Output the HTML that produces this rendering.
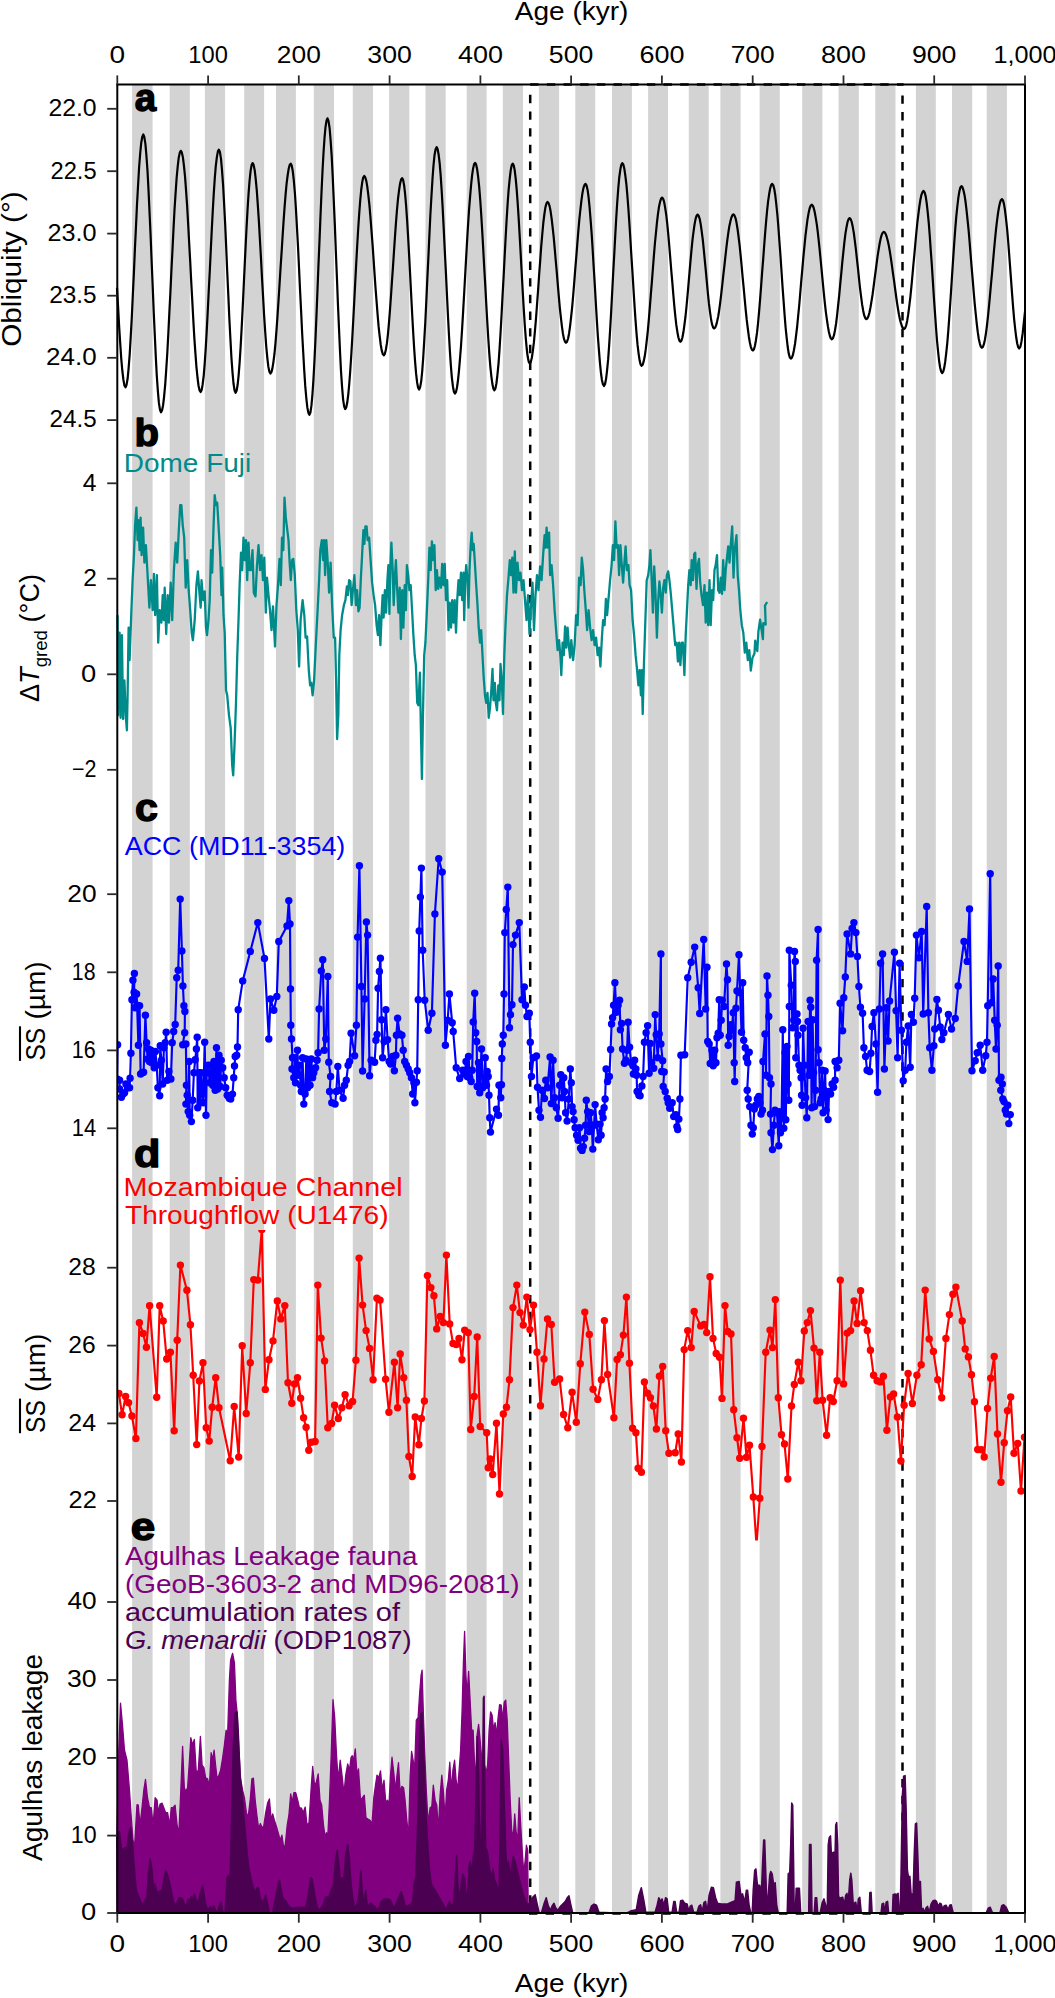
<!DOCTYPE html>
<html lang="en"><head><meta charset="utf-8"><title>Figure</title>
<style>html,body{margin:0;padding:0;background:#fff}svg{display:block}</style></head>
<body>
<svg width="1055" height="1998" viewBox="0 0 1055 1998" font-family="'Liberation Sans', sans-serif">
<rect width="1055" height="1998" fill="#fff"/>
<g fill="#d3d3d3"><rect x="132.1" y="84.4" width="20.5" height="1828.9"/><rect x="169.7" y="84.4" width="20.1" height="1828.9"/><rect x="204.9" y="84.4" width="20.2" height="1828.9"/><rect x="244.2" y="84.4" width="19.9" height="1828.9"/><rect x="276.0" y="84.4" width="19.9" height="1828.9"/><rect x="313.8" y="84.4" width="20.2" height="1828.9"/><rect x="352.8" y="84.4" width="20.2" height="1828.9"/><rect x="389.1" y="84.4" width="20.2" height="1828.9"/><rect x="425.5" y="84.4" width="20.2" height="1828.9"/><rect x="466.7" y="84.4" width="19.9" height="1828.9"/><rect x="502.8" y="84.4" width="20.2" height="1828.9"/><rect x="538.9" y="84.4" width="20.2" height="1828.9"/><rect x="575.3" y="84.4" width="19.9" height="1828.9"/><rect x="612.0" y="84.4" width="19.9" height="1828.9"/><rect x="648.1" y="84.4" width="19.9" height="1828.9"/><rect x="688.8" y="84.4" width="19.9" height="1828.9"/><rect x="720.4" y="84.4" width="20.2" height="1828.9"/><rect x="759.6" y="84.4" width="20.2" height="1828.9"/><rect x="802.2" y="84.4" width="20.2" height="1828.9"/><rect x="838.6" y="84.4" width="20.2" height="1828.9"/><rect x="875.3" y="84.4" width="20.2" height="1828.9"/><rect x="915.9" y="84.4" width="19.9" height="1828.9"/><rect x="952.0" y="84.4" width="20.2" height="1828.9"/><rect x="986.7" y="84.4" width="20.2" height="1828.9"/></g>
<g stroke="#000" stroke-width="2.5" fill="none" stroke-dasharray="8.4 8.27">
<path d="M530.2 84.6H903.7"/>
<path d="M529 1913.5H903.7"/>
<path d="M530.2 94.8V1913" />
<path d="M902.5 95.4V1913" />
</g>
<path d="M117.0 287.7 L118.1 307.1 L119.1 325.8 L120.2 343.0 L121.2 358.1 L122.3 370.5 L123.4 379.7 L124.4 385.4 L125.5 387.3 L126.5 385.1 L127.6 378.8 L128.6 368.4 L129.7 354.3 L130.7 337.1 L131.8 317.2 L132.8 295.5 L133.9 272.6 L134.9 249.2 L136.0 226.3 L137.0 204.6 L138.1 184.7 L139.1 167.5 L140.2 153.4 L141.2 143.0 L142.3 136.7 L143.3 134.5 L144.3 136.9 L145.4 143.9 L146.4 155.3 L147.5 170.8 L148.5 189.7 L149.5 211.5 L150.6 235.4 L151.6 260.6 L152.7 286.2 L153.7 311.4 L154.8 335.3 L155.8 357.1 L156.8 376.0 L157.9 391.5 L158.9 402.9 L160.0 409.9 L161.0 412.3 L162.0 410.5 L163.1 405.2 L164.1 396.5 L165.2 384.7 L166.2 370.1 L167.3 353.1 L168.3 334.1 L169.3 313.6 L170.4 292.3 L171.4 270.8 L172.5 249.5 L173.5 229.0 L174.5 210.0 L175.6 193.0 L176.6 178.4 L177.7 166.6 L178.7 157.9 L179.8 152.6 L180.8 150.8 L181.8 152.4 L182.9 157.3 L183.9 165.3 L185.0 176.2 L186.0 189.7 L187.1 205.4 L188.1 223.0 L189.1 241.8 L190.2 261.4 L191.2 281.4 L192.3 301.0 L193.3 319.8 L194.3 337.4 L195.4 353.1 L196.4 366.6 L197.5 377.5 L198.5 385.5 L199.6 390.4 L200.6 392.0 L201.6 390.2 L202.6 384.7 L203.7 375.8 L204.7 363.6 L205.7 348.7 L206.7 331.4 L207.7 312.3 L208.7 291.8 L209.8 270.8 L210.8 249.8 L211.8 229.3 L212.8 210.2 L213.8 192.9 L214.8 178.0 L215.8 165.8 L216.9 156.9 L217.9 151.4 L218.9 149.6 L219.9 151.9 L221.0 158.9 L222.0 170.1 L223.1 185.2 L224.1 203.6 L225.2 224.7 L226.2 247.5 L227.2 271.2 L228.3 294.9 L229.3 317.7 L230.4 338.8 L231.4 357.2 L232.5 372.3 L233.5 383.5 L234.6 390.5 L235.6 392.8 L236.6 390.8 L237.6 385.0 L238.6 375.6 L239.6 362.8 L240.6 347.2 L241.6 329.1 L242.6 309.4 L243.6 288.5 L244.6 267.4 L245.6 246.5 L246.6 226.8 L247.6 208.7 L248.6 193.1 L249.6 180.3 L250.6 170.9 L251.6 165.1 L252.6 163.1 L253.6 164.9 L254.7 170.2 L255.7 178.9 L256.8 190.6 L257.8 204.9 L258.9 221.4 L259.9 239.5 L261.0 258.6 L262.0 278.0 L263.1 297.1 L264.1 315.2 L265.2 331.7 L266.2 346.0 L267.3 357.7 L268.3 366.4 L269.4 371.7 L270.4 373.5 L271.4 372.2 L272.4 368.4 L273.4 362.1 L274.5 353.5 L275.5 342.8 L276.5 330.2 L277.5 316.2 L278.5 301.0 L279.5 285.0 L280.5 268.6 L281.6 252.1 L282.6 236.1 L283.6 220.9 L284.6 206.9 L285.6 194.3 L286.6 183.6 L287.7 175.0 L288.7 168.7 L289.7 164.9 L290.7 163.6 L291.7 165.5 L292.8 171.2 L293.8 180.4 L294.9 193.0 L295.9 208.5 L296.9 226.4 L298.0 246.2 L299.0 267.4 L300.0 289.2 L301.1 311.0 L302.1 332.2 L303.2 352.0 L304.2 369.9 L305.2 385.4 L306.3 398.0 L307.3 407.2 L308.4 412.9 L309.4 414.8 L310.4 412.5 L311.4 405.9 L312.4 394.9 L313.4 380.1 L314.4 361.8 L315.4 340.7 L316.4 317.3 L317.4 292.3 L318.4 266.6 L319.5 240.8 L320.5 215.8 L321.5 192.4 L322.5 171.3 L323.5 153.0 L324.5 138.2 L325.5 127.2 L326.5 120.6 L327.5 118.3 L328.5 120.8 L329.6 128.1 L330.6 140.1 L331.7 156.2 L332.7 176.1 L333.7 198.9 L334.8 223.9 L335.8 250.3 L336.9 277.1 L337.9 303.5 L339.0 328.5 L340.0 351.3 L341.0 371.2 L342.1 387.3 L343.1 399.3 L344.2 406.6 L345.2 409.1 L346.2 407.5 L347.2 402.8 L348.2 395.1 L349.2 384.5 L350.2 371.5 L351.2 356.3 L352.2 339.4 L353.2 321.2 L354.2 302.2 L355.2 282.9 L356.2 263.9 L357.2 245.7 L358.2 228.8 L359.2 213.6 L360.2 200.6 L361.2 190.0 L362.2 182.3 L363.2 177.6 L364.2 176.0 L365.2 177.2 L366.3 180.9 L367.3 186.8 L368.3 194.9 L369.4 204.9 L370.4 216.6 L371.4 229.6 L372.5 243.6 L373.5 258.2 L374.5 273.1 L375.5 287.7 L376.6 301.7 L377.6 314.7 L378.6 326.4 L379.7 336.4 L380.7 344.5 L381.7 350.4 L382.8 354.1 L383.8 355.3 L384.8 354.0 L385.8 350.0 L386.9 343.4 L387.9 334.6 L388.9 323.7 L389.9 311.0 L390.9 297.0 L391.9 282.1 L393.0 266.7 L394.0 251.3 L395.0 236.4 L396.0 222.4 L397.0 209.7 L398.0 198.8 L399.1 190.0 L400.1 183.4 L401.1 179.4 L402.1 178.1 L403.1 179.9 L404.1 185.2 L405.1 193.9 L406.1 205.7 L407.1 220.1 L408.1 236.7 L409.1 254.9 L410.1 274.0 L411.1 293.6 L412.1 312.7 L413.1 330.9 L414.1 347.5 L415.1 361.9 L416.1 373.7 L417.1 382.4 L418.1 387.7 L419.1 389.5 L420.1 387.4 L421.2 381.3 L422.2 371.3 L423.2 357.9 L424.2 341.3 L425.3 322.3 L426.3 301.5 L427.3 279.5 L428.4 257.1 L429.4 235.1 L430.4 214.3 L431.5 195.3 L432.5 178.7 L433.5 165.3 L434.5 155.3 L435.6 149.2 L436.6 147.1 L437.6 149.0 L438.6 154.5 L439.7 163.6 L440.7 175.9 L441.7 191.1 L442.7 208.7 L443.7 228.2 L444.7 248.9 L445.8 270.4 L446.8 291.8 L447.8 312.5 L448.8 332.0 L449.8 349.6 L450.8 364.8 L451.8 377.1 L452.9 386.2 L453.9 391.7 L454.9 393.6 L455.9 392.2 L456.9 388.0 L457.9 381.0 L458.9 371.6 L459.9 359.8 L461.0 346.0 L462.0 330.6 L463.0 313.9 L464.0 296.3 L465.0 278.2 L466.0 260.1 L467.0 242.5 L468.0 225.8 L469.0 210.4 L470.1 196.6 L471.1 184.8 L472.1 175.4 L473.1 168.4 L474.1 164.2 L475.1 162.8 L476.1 164.4 L477.1 169.0 L478.1 176.5 L479.2 186.8 L480.2 199.5 L481.2 214.3 L482.2 230.9 L483.2 248.6 L484.2 267.2 L485.3 285.9 L486.3 304.5 L487.3 322.2 L488.3 338.8 L489.3 353.6 L490.3 366.3 L491.4 376.6 L492.4 384.1 L493.4 388.7 L494.4 390.3 L495.4 388.6 L496.4 383.5 L497.4 375.1 L498.5 363.8 L499.5 349.8 L500.5 333.6 L501.5 315.7 L502.5 296.6 L503.6 277.0 L504.6 257.3 L505.6 238.2 L506.6 220.3 L507.6 204.1 L508.6 190.1 L509.7 178.8 L510.7 170.4 L511.7 165.3 L512.7 163.6 L513.7 165.3 L514.7 170.3 L515.7 178.6 L516.7 189.7 L517.7 203.3 L518.7 219.0 L519.7 236.2 L520.7 254.3 L521.7 272.8 L522.7 290.9 L523.7 308.1 L524.7 323.8 L525.7 337.4 L526.7 348.5 L527.7 356.8 L528.7 361.8 L529.7 363.5 L530.7 362.1 L531.8 358.0 L532.8 351.4 L533.9 342.4 L534.9 331.4 L536.0 318.7 L537.0 304.8 L538.1 290.2 L539.1 275.2 L540.2 260.6 L541.2 246.7 L542.3 234.0 L543.3 223.0 L544.4 214.0 L545.4 207.4 L546.5 203.3 L547.5 201.9 L548.5 203.0 L549.6 206.1 L550.6 211.3 L551.6 218.4 L552.6 227.1 L553.7 237.1 L554.7 248.3 L555.7 260.1 L556.8 272.4 L557.8 284.6 L558.8 296.4 L559.8 307.6 L560.9 317.6 L561.9 326.3 L562.9 333.4 L563.9 338.6 L565.0 341.7 L566.0 342.8 L567.0 341.7 L568.1 338.5 L569.1 333.2 L570.1 326.0 L571.1 317.1 L572.2 306.8 L573.2 295.2 L574.2 282.8 L575.2 269.9 L576.3 256.7 L577.3 243.8 L578.3 231.4 L579.3 219.8 L580.4 209.5 L581.4 200.6 L582.4 193.4 L583.4 188.1 L584.5 184.9 L585.5 183.8 L586.5 185.3 L587.6 189.9 L588.6 197.3 L589.6 207.5 L590.6 219.9 L591.7 234.3 L592.7 250.3 L593.7 267.3 L594.8 284.9 L595.8 302.5 L596.8 319.5 L597.8 335.4 L598.9 349.9 L599.9 362.3 L600.9 372.5 L601.9 379.9 L603.0 384.5 L604.0 386.0 L605.0 384.3 L606.0 379.3 L607.0 371.1 L608.1 359.9 L609.1 346.2 L610.1 330.3 L611.1 312.7 L612.1 293.9 L613.1 274.6 L614.2 255.2 L615.2 236.4 L616.2 218.8 L617.2 202.9 L618.2 189.2 L619.2 178.0 L620.3 169.8 L621.3 164.8 L622.3 163.1 L623.3 164.5 L624.3 168.6 L625.3 175.3 L626.4 184.5 L627.4 195.8 L628.4 209.0 L629.4 223.7 L630.4 239.6 L631.4 256.1 L632.5 272.8 L633.5 289.3 L634.5 305.2 L635.5 319.9 L636.5 333.1 L637.5 344.4 L638.6 353.6 L639.6 360.3 L640.6 364.4 L641.6 365.8 L642.6 364.8 L643.6 361.7 L644.7 356.6 L645.7 349.7 L646.7 341.2 L647.8 331.1 L648.8 319.9 L649.8 307.7 L650.8 294.9 L651.9 281.7 L652.9 268.5 L653.9 255.7 L654.9 243.5 L656.0 232.3 L657.0 222.2 L658.0 213.7 L659.0 206.8 L660.1 201.7 L661.1 198.6 L662.1 197.6 L663.1 198.7 L664.1 201.9 L665.1 207.3 L666.2 214.5 L667.2 223.4 L668.2 233.6 L669.2 245.0 L670.2 257.2 L671.2 269.7 L672.3 282.2 L673.3 294.4 L674.3 305.8 L675.3 316.0 L676.3 324.9 L677.4 332.1 L678.4 337.5 L679.4 340.7 L680.4 341.8 L681.4 340.7 L682.4 337.5 L683.4 332.3 L684.4 325.2 L685.5 316.5 L686.5 306.5 L687.5 295.6 L688.5 284.1 L689.5 272.3 L690.5 260.8 L691.5 249.9 L692.5 239.9 L693.6 231.2 L694.6 224.1 L695.6 218.9 L696.6 215.7 L697.6 214.6 L698.6 215.7 L699.7 218.9 L700.7 224.2 L701.7 231.3 L702.8 239.9 L703.8 249.8 L704.8 260.4 L705.9 271.6 L706.9 282.7 L707.9 293.3 L708.9 303.2 L710.0 311.8 L711.0 318.9 L712.0 324.2 L713.1 327.4 L714.1 328.5 L715.1 327.7 L716.1 325.4 L717.1 321.6 L718.2 316.5 L719.2 310.1 L720.2 302.7 L721.2 294.4 L722.2 285.5 L723.2 276.2 L724.3 266.7 L725.3 257.4 L726.3 248.5 L727.3 240.2 L728.3 232.8 L729.3 226.4 L730.4 221.3 L731.4 217.5 L732.4 215.2 L733.4 214.4 L734.4 215.3 L735.5 218.1 L736.5 222.6 L737.5 228.7 L738.5 236.4 L739.6 245.2 L740.6 255.1 L741.6 265.7 L742.6 276.8 L743.7 288.1 L744.7 299.2 L745.7 309.8 L746.7 319.7 L747.8 328.5 L748.8 336.2 L749.8 342.3 L750.8 346.8 L751.9 349.6 L752.9 350.5 L753.9 349.4 L754.9 346.0 L755.9 340.5 L757.0 332.9 L758.0 323.6 L759.0 312.7 L760.0 300.6 L761.0 287.6 L762.0 274.0 L763.1 260.3 L764.1 246.7 L765.1 233.7 L766.1 221.6 L767.1 210.7 L768.1 201.4 L769.2 193.8 L770.2 188.3 L771.2 184.9 L772.2 183.8 L773.2 185.1 L774.3 189.1 L775.3 195.5 L776.3 204.3 L777.4 215.0 L778.4 227.5 L779.4 241.3 L780.5 256.1 L781.5 271.2 L782.5 286.4 L783.6 301.2 L784.6 315.0 L785.6 327.5 L786.7 338.2 L787.7 347.0 L788.7 353.4 L789.8 357.4 L790.8 358.7 L791.8 357.8 L792.9 354.9 L793.9 350.3 L795.0 344.0 L796.0 336.1 L797.1 327.0 L798.1 316.7 L799.2 305.5 L800.2 293.7 L801.2 281.7 L802.3 269.7 L803.3 257.9 L804.4 246.7 L805.4 236.4 L806.5 227.3 L807.5 219.4 L808.6 213.1 L809.6 208.5 L810.7 205.6 L811.7 204.7 L812.7 205.5 L813.7 208.0 L814.7 212.0 L815.7 217.6 L816.8 224.4 L817.8 232.4 L818.8 241.4 L819.8 251.2 L820.8 261.5 L821.8 272.0 L822.8 282.5 L823.8 292.8 L824.8 302.6 L825.8 311.6 L826.9 319.6 L827.9 326.4 L828.9 332.0 L829.9 336.0 L830.9 338.5 L831.9 339.3 L832.9 338.3 L834.0 335.2 L835.0 330.2 L836.1 323.5 L837.1 315.2 L838.1 305.7 L839.2 295.3 L840.2 284.3 L841.3 273.1 L842.3 262.1 L843.4 251.7 L844.4 242.2 L845.4 233.9 L846.5 227.2 L847.5 222.2 L848.6 219.1 L849.6 218.1 L850.6 219.1 L851.7 221.9 L852.7 226.6 L853.8 232.9 L854.8 240.6 L855.9 249.3 L856.9 258.8 L858.0 268.6 L859.0 278.5 L860.0 288.0 L861.1 296.7 L862.1 304.4 L863.2 310.7 L864.2 315.4 L865.3 318.2 L866.3 319.2 L867.3 318.5 L868.4 316.3 L869.4 312.7 L870.4 307.8 L871.4 301.9 L872.5 295.0 L873.5 287.5 L874.5 279.6 L875.6 271.5 L876.6 263.6 L877.6 256.1 L878.7 249.2 L879.7 243.3 L880.7 238.4 L881.7 234.8 L882.8 232.6 L883.8 231.9 L884.8 232.5 L885.8 234.3 L886.8 237.2 L887.9 241.2 L888.9 246.1 L889.9 251.9 L890.9 258.4 L891.9 265.4 L892.9 272.9 L894.0 280.4 L895.0 288.0 L896.0 295.5 L897.0 302.5 L898.0 309.0 L899.0 314.8 L900.0 319.7 L901.1 323.7 L902.1 326.6 L903.1 328.4 L904.1 329.0 L905.1 328.1 L906.2 325.3 L907.2 320.7 L908.2 314.4 L909.2 306.7 L910.3 297.7 L911.3 287.7 L912.3 276.9 L913.3 265.7 L914.4 254.2 L915.4 243.0 L916.4 232.2 L917.4 222.2 L918.5 213.2 L919.5 205.5 L920.5 199.2 L921.5 194.6 L922.6 191.8 L923.6 190.9 L924.6 192.3 L925.7 196.4 L926.7 203.1 L927.7 212.2 L928.8 223.4 L929.8 236.4 L930.8 250.8 L931.9 266.1 L932.9 281.9 L933.9 297.8 L935.0 313.1 L936.0 327.5 L937.0 340.5 L938.1 351.7 L939.1 360.8 L940.1 367.5 L941.2 371.6 L942.2 373.0 L943.2 371.7 L944.2 367.9 L945.2 361.7 L946.2 353.3 L947.3 342.8 L948.3 330.7 L949.3 317.1 L950.3 302.5 L951.3 287.3 L952.3 271.8 L953.3 256.6 L954.3 242.0 L955.3 228.4 L956.3 216.3 L957.4 205.8 L958.4 197.4 L959.4 191.2 L960.4 187.4 L961.4 186.1 L962.4 187.1 L963.4 190.1 L964.5 194.9 L965.5 201.5 L966.5 209.8 L967.5 219.4 L968.6 230.2 L969.6 242.0 L970.6 254.3 L971.6 266.9 L972.7 279.6 L973.7 291.9 L974.7 303.7 L975.8 314.5 L976.8 324.1 L977.8 332.4 L978.8 339.0 L979.9 343.8 L980.9 346.8 L981.9 347.8 L982.9 346.9 L983.9 344.2 L984.9 339.7 L985.9 333.6 L986.9 326.0 L987.9 317.2 L988.9 307.2 L989.9 296.4 L990.9 285.1 L992.0 273.5 L993.0 261.8 L994.0 250.5 L995.0 239.7 L996.0 229.7 L997.0 220.9 L998.0 213.3 L999.0 207.2 L1000.0 202.7 L1001.0 200.0 L1002.0 199.1 L1003.0 200.4 L1004.0 204.1 L1005.0 210.3 L1006.0 218.6 L1007.1 228.8 L1008.1 240.5 L1009.1 253.4 L1010.1 266.9 L1011.1 280.7 L1012.1 294.2 L1013.1 307.1 L1014.1 318.8 L1015.2 329.0 L1016.2 337.3 L1017.2 343.5 L1018.2 347.2 L1019.2 348.5 L1020.4 346.7 L1021.5 341.4 L1022.7 333.2 L1023.8 322.9 L1025.0 311.5" fill="none" stroke="#000" stroke-width="2.2" stroke-linejoin="round"/>
<path d="M117.6 615.2 L118.1 715.3 L119.6 632.7 L120.6 717.8 L121.9 635.2 L123.1 719.0 L124.4 680.3 L125.9 717.8 L126.9 730.3 L127.6 695.3 L128.6 627.7 L129.6 660.2 L131.4 610.2 L132.6 580.2 L133.9 556.4 L135.1 525.1 L136.4 507.6 L137.6 540.1 L138.4 520.1 L139.6 550.1 L140.6 517.6 L141.6 555.1 L143.1 527.6 L144.4 562.6 L145.9 545.1 L147.6 575.2 L149.4 607.7 L150.9 580.2 L152.7 610.2 L153.9 573.9 L155.2 615.2 L156.9 575.2 L158.2 642.7 L159.7 610.2 L161.4 622.7 L162.7 595.2 L163.9 620.2 L164.7 587.7 L166.2 634.0 L167.7 595.2 L168.9 622.7 L170.7 582.7 L172.2 620.2 L173.9 570.2 L175.7 542.6 L177.2 562.6 L178.7 532.6 L180.2 505.1 L181.4 505.1 L182.7 525.1 L184.2 537.6 L185.7 587.7 L187.2 560.1 L188.7 590.2 L190.2 610.2 L191.7 632.7 L192.9 640.2 L194.7 620.2 L196.4 585.2 L197.9 571.4 L199.4 592.7 L200.7 607.7 L201.5 580.2 L203.2 600.2 L204.7 591.4 L206.0 627.7 L207.0 635.2 L208.5 620.2 L209.7 600.2 L211.0 550.1 L212.2 572.7 L213.5 527.6 L214.7 495.1 L216.0 505.1 L217.2 502.6 L218.5 525.1 L220.2 555.1 L221.5 595.2 L222.2 567.6 L223.5 615.2 L224.7 632.7 L226.0 690.3 L227.2 695.3 L229.0 715.3 L230.7 727.8 L232.2 765.3 L233.2 775.4 L234.5 745.3 L236.0 702.8 L237.2 657.7 L238.5 620.2 L239.7 582.7 L241.0 552.6 L242.2 570.2 L243.5 537.6 L244.7 560.1 L246.0 540.1 L247.2 580.2 L248.5 542.6 L249.7 570.2 L251.0 570.1 L252.5 550.1 L253.8 592.7 L255.5 596.4 L257.0 565.1 L258.5 545.1 L260.0 570.1 L261.5 555.1 L263.0 580.2 L264.3 557.6 L265.8 612.7 L267.0 577.6 L268.5 595.2 L270.0 610.2 L271.5 630.2 L273.0 606.4 L275.0 646.5 L276.5 605.2 L278.0 585.2 L279.5 558.9 L280.8 585.2 L282.0 537.6 L283.3 550.1 L284.5 497.6 L285.8 517.6 L287.0 527.6 L288.5 540.1 L289.5 560.1 L290.8 580.2 L292.1 560.1 L293.3 558.9 L294.8 575.1 L296.3 610.2 L297.8 630.2 L299.1 666.5 L300.6 620.2 L302.6 600.2 L304.3 615.2 L305.6 637.7 L307.1 636.5 L308.8 670.2 L310.1 685.3 L311.3 682.8 L312.6 695.3 L314.1 680.3 L315.8 645.2 L317.6 610.2 L319.1 580.2 L320.3 550.1 L321.8 540.1 L323.1 560.1 L324.1 540.1 L325.1 575.1 L326.3 540.1 L327.6 560.1 L329.1 592.7 L330.6 562.6 L332.1 605.2 L333.8 637.7 L335.1 637.7 L336.1 680.3 L337.1 739.1 L338.3 715.3 L339.3 655.2 L340.6 630.2 L342.1 615.2 L343.9 605.2 L345.4 600.2 L346.9 586.4 L347.9 595.2 L349.1 580.2 L350.4 581.4 L351.6 605.2 L352.9 590.2 L354.4 575.1 L355.9 605.2 L357.1 590.2 L358.4 611.4 L359.6 607.7 L360.9 577.6 L362.1 555.1 L363.4 530.1 L364.4 543.9 L365.4 526.3 L366.6 526.3 L367.6 540.1 L369.1 537.6 L370.6 560.1 L372.1 582.7 L373.6 595.2 L375.1 605.2 L376.6 625.2 L377.9 635.2 L379.1 615.2 L380.4 645.2 L381.6 615.2 L382.6 595.2 L383.6 617.7 L384.9 590.2 L386.1 612.7 L387.4 580.2 L388.4 565.1 L389.4 613.9 L390.4 565.1 L391.4 542.6 L392.7 570.1 L393.7 605.2 L394.7 580.2 L395.9 560.1 L397.2 590.2 L398.4 612.7 L399.7 587.7 L400.9 639.0 L402.2 590.2 L403.4 627.7 L404.7 585.2 L405.9 610.2 L406.9 565.1 L408.2 575.1 L409.4 590.2 L410.7 585.2 L412.2 612.7 L413.4 635.2 L414.7 655.2 L415.9 665.2 L417.2 702.8 L418.4 705.3 L419.9 672.7 L420.9 730.3 L421.9 779.1 L422.9 717.8 L424.2 655.2 L425.4 642.7 L426.9 610.2 L428.2 580.2 L429.4 547.6 L430.7 570.1 L431.9 541.4 L433.2 560.1 L434.4 545.1 L435.7 590.2 L436.9 570.1 L438.2 588.9 L439.4 577.6 L441.0 587.7 L442.2 563.9 L443.5 585.2 L444.7 563.9 L446.0 600.2 L447.2 580.2 L448.5 630.2 L449.7 602.7 L451.0 627.7 L452.2 600.2 L453.5 622.7 L454.7 600.2 L456.0 632.7 L457.2 600.2 L458.5 580.2 L459.7 595.2 L461.0 572.6 L462.2 600.2 L463.5 572.6 L464.2 620.2 L465.2 580.2 L466.2 565.1 L467.5 580.2 L468.5 607.7 L469.5 570.1 L470.7 545.1 L471.7 532.6 L472.7 550.1 L473.7 543.9 L475.0 565.1 L476.2 585.2 L477.5 605.2 L478.7 627.7 L480.0 642.7 L481.2 630.2 L482.5 655.2 L483.7 677.7 L485.0 695.3 L486.2 702.8 L487.5 692.8 L488.7 717.8 L490.0 707.8 L491.3 690.3 L492.5 669.0 L493.5 700.3 L494.8 682.8 L495.8 702.8 L497.0 710.3 L498.3 685.3 L499.5 700.3 L500.5 664.0 L501.8 680.3 L503.0 714.0 L504.3 655.2 L505.5 625.2 L507.0 595.2 L508.5 577.6 L509.8 560.1 L511.0 575.1 L512.3 557.6 L513.5 592.7 L514.8 551.4 L516.0 592.7 L517.5 562.6 L519.0 580.2 L520.5 572.6 L522.0 590.2 L523.5 580.2 L525.0 600.2 L526.5 620.2 L528.0 595.2 L529.5 634.0 L531.0 605.2 L532.5 582.7 L534.0 630.2 L535.5 595.2 L537.0 575.1 L538.5 590.2 L540.1 566.4 L541.6 580.2 L543.1 555.1 L544.6 535.1 L545.6 547.6 L546.6 527.6 L547.8 547.6 L549.1 532.6 L550.1 575.1 L551.6 565.1 L553.1 585.2 L554.6 610.2 L556.1 630.2 L557.6 650.2 L559.1 640.2 L560.3 655.2 L561.3 675.2 L562.6 642.7 L563.8 655.2 L565.1 626.4 L566.3 647.7 L567.6 627.7 L568.8 645.2 L570.1 657.7 L571.3 640.2 L573.1 660.2 L574.6 645.2 L576.1 615.2 L577.6 625.2 L579.1 577.6 L580.6 585.2 L581.8 557.6 L583.1 570.1 L584.3 590.2 L585.8 610.2 L587.1 630.2 L588.6 610.2 L590.1 627.7 L591.6 640.2 L593.1 630.2 L594.6 645.2 L596.1 637.7 L597.6 655.2 L599.1 647.7 L600.4 666.5 L601.9 637.7 L603.1 620.2 L604.6 625.2 L605.9 598.9 L607.1 615.2 L608.6 597.7 L610.1 580.2 L611.6 565.1 L612.9 545.1 L614.1 560.1 L615.4 521.3 L616.6 547.6 L617.9 545.1 L619.1 575.1 L620.4 545.1 L621.6 562.6 L623.1 582.7 L624.4 562.6 L625.6 546.4 L626.9 570.1 L628.4 565.1 L629.6 585.2 L631.1 590.2 L632.6 620.2 L634.1 635.2 L635.6 655.2 L637.1 670.2 L638.4 685.3 L639.6 670.2 L640.9 695.3 L641.7 670.2 L642.7 714.0 L643.9 665.2 L645.2 625.2 L646.7 580.2 L648.2 575.1 L649.4 565.1 L650.4 550.1 L651.7 580.2 L652.9 612.7 L654.2 566.4 L655.4 590.2 L656.9 637.7 L658.2 600.2 L659.4 581.4 L660.7 595.2 L661.9 612.7 L663.2 587.7 L664.4 580.2 L665.7 592.7 L666.9 575.1 L668.2 571.4 L669.4 580.2 L670.7 592.7 L672.2 610.2 L673.7 627.7 L675.2 645.2 L676.7 642.7 L677.9 661.5 L679.2 642.7 L680.4 665.2 L681.7 642.7 L682.9 642.7 L684.4 675.2 L685.7 635.2 L687.2 605.2 L688.2 585.2 L689.4 570.1 L690.7 585.2 L691.7 560.1 L693.0 580.2 L694.2 553.9 L695.2 552.6 L696.5 588.9 L697.7 565.1 L699.0 558.9 L700.2 582.7 L701.5 595.2 L703.0 605.2 L704.5 585.2 L705.7 622.7 L707.0 592.7 L708.2 625.2 L709.5 580.2 L710.7 625.2 L712.0 590.2 L713.2 600.2 L714.5 570.1 L715.7 565.1 L717.0 555.1 L718.2 590.2 L719.5 592.7 L720.7 577.6 L722.0 593.9 L723.2 560.1 L724.5 590.2 L725.7 570.1 L727.0 557.6 L728.2 546.4 L729.5 562.6 L730.7 545.1 L732.2 526.3 L733.5 577.6 L734.7 550.1 L736.5 535.1 L737.7 575.1 L739.0 590.2 L740.3 610.2 L741.8 625.2 L743.3 632.7 L744.8 652.7 L746.3 642.7 L747.8 660.2 L749.3 650.2 L750.8 670.7 L752.4 658.1 L754.5 653.2 L755.2 640.6 L757.3 651.1 L758.4 631.5 L760.1 619.6 L762.9 639.2 L763.3 623.1 L765.7 624.5 L765.0 605.6 L767.1 602.0" fill="none" stroke="#008b8b" stroke-width="2.3" stroke-linejoin="round"/>
<clipPath id="cc"><rect x="117.3" y="84.4" width="907.7" height="1829"/></clipPath>
<g clip-path="url(#cc)"><path d="M117.6 1044.8 L117.1 1079.0 L119.6 1080.3 L119.6 1089.0 L121.4 1097.3 L123.1 1094.1 L124.6 1092.8 L125.9 1084.0 L127.6 1087.8 L129.6 1087.8 L130.1 1078.3 L130.9 1053.3 L131.9 999.7 L132.9 980.2 L134.4 973.4 L134.1 992.2 L135.1 1007.7 L136.6 994.0 L137.1 1005.2 L138.4 1045.3 L139.6 1005.7 L140.6 1074.0 L142.1 1072.8 L143.6 1072.3 L145.4 1015.2 L146.6 1042.8 L147.6 1059.0 L148.4 1049.0 L149.4 1061.5 L150.7 1050.3 L151.7 1062.8 L152.7 1051.5 L154.2 1067.8 L155.4 1051.5 L156.7 1065.3 L157.9 1087.8 L159.7 1095.8 L160.2 1045.8 L161.4 1060.3 L162.7 1084.0 L163.9 1047.8 L165.2 1042.8 L166.2 1032.2 L167.2 1080.3 L168.9 1071.5 L170.9 1079.0 L172.2 1042.8 L173.7 1031.5 L175.2 1024.5 L176.7 977.7 L178.2 970.2 L180.2 899.1 L181.9 950.9 L182.9 985.9 L183.9 1005.7 L184.9 1011.5 L184.7 1032.7 L182.7 1044.8 L185.9 1044.0 L186.4 1085.3 L185.9 1104.1 L187.2 1095.3 L188.2 1111.6 L189.2 1061.5 L189.7 1115.3 L191.4 1121.6 L192.7 1100.3 L193.9 1072.8 L195.2 1059.8 L196.4 1049.0 L197.2 1037.2 L197.7 1107.8 L199.4 1072.8 L200.2 1102.8 L201.2 1072.8 L202.2 1094.1 L203.2 1102.8 L204.7 1042.3 L206.0 1115.3 L206.7 1072.8 L208.2 1065.3 L209.7 1082.8 L211.2 1065.3 L212.7 1085.3 L214.0 1061.5 L215.2 1090.3 L216.5 1047.8 L217.7 1089.0 L219.0 1055.3 L220.2 1086.5 L221.2 1060.3 L222.7 1067.8 L224.2 1077.8 L225.7 1087.8 L227.2 1095.3 L229.2 1098.3 L230.7 1099.1 L232.5 1094.1 L233.7 1077.8 L234.5 1066.0 L235.2 1056.5 L236.7 1055.3 L237.5 1047.0 L238.2 1009.7 L242.7 980.9 L250.3 951.4 L257.8 922.6 L264.5 958.4 L268.8 1039.0 L270.5 998.9 L273.8 1010.2 L276.8 996.4 L278.8 941.4 L287.0 925.9 L288.8 900.6 L290.0 923.9 L290.5 988.9 L290.8 1025.2 L291.5 1039.0 L292.5 1057.8 L292.0 1069.0 L293.8 1077.8 L295.0 1057.8 L295.5 1082.8 L297.5 1050.3 L298.0 1075.3 L299.5 1065.3 L300.6 1085.3 L301.3 1091.5 L302.6 1057.8 L303.8 1104.1 L305.1 1094.0 L306.3 1059.0 L307.6 1087.8 L308.8 1060.3 L310.1 1085.3 L311.3 1059.0 L312.6 1077.8 L313.8 1072.8 L315.6 1067.8 L317.1 1060.3 L318.1 1052.8 L319.1 1009.0 L321.3 970.9 L322.8 959.7 L324.3 1050.3 L325.8 1039.0 L327.8 976.4 L328.8 1062.3 L330.6 1076.5 L329.6 1091.5 L331.8 1102.8 L335.1 1104.1 L336.3 1091.5 L337.8 1066.5 L339.6 1090.3 L343.1 1098.3 L344.6 1085.3 L346.3 1080.3 L348.1 1065.3 L349.6 1061.5 L351.1 1033.2 L354.6 1055.8 L356.4 1025.2 L357.6 937.1 L359.4 865.8 L361.4 986.4 L362.6 1071.0 L364.6 998.9 L366.4 921.9 L367.6 935.1 L369.6 1075.8 L371.1 1060.3 L374.6 1062.3 L375.9 1040.2 L377.1 1034.5 L378.1 988.2 L379.4 971.4 L380.4 958.2 L381.6 1019.7 L382.6 1057.8 L384.1 1041.5 L385.9 1009.7 L387.6 1039.7 L389.1 1061.5 L390.6 1064.0 L392.6 1056.5 L394.4 1070.8 L395.9 1055.3 L396.4 1035.2 L397.6 1018.2 L399.6 1034.0 L401.9 1035.2 L403.2 1050.3 L404.7 1061.5 L406.4 1065.3 L408.2 1069.0 L409.7 1072.8 L411.4 1077.8 L412.7 1094.0 L413.9 1082.8 L414.9 1102.8 L416.4 1082.3 L417.2 1070.8 L418.2 999.7 L419.2 930.9 L420.4 897.1 L421.4 868.1 L422.7 950.2 L424.7 1000.2 L428.2 1030.2 L431.9 1013.2 L434.9 913.9 L438.7 858.8 L442.2 872.1 L445.4 1045.2 L447.7 1020.2 L449.4 993.9 L452.2 1022.7 L453.2 1031.5 L456.2 1067.8 L459.7 1078.5 L462.7 1070.3 L464.7 1074.0 L466.0 1061.5 L467.2 1076.5 L468.5 1056.5 L469.7 1077.8 L471.2 1081.5 L472.2 1070.3 L473.2 1022.0 L474.7 993.2 L475.7 1032.7 L476.7 1041.5 L477.2 1086.5 L478.5 1062.8 L479.7 1092.8 L481.5 1049.0 L482.7 1087.8 L484.0 1085.3 L485.2 1057.8 L486.5 1085.3 L487.2 1071.5 L488.2 1076.5 L489.0 1095.3 L489.7 1117.8 L490.5 1132.1 L496.5 1109.1 L498.5 1115.3 L499.0 1085.3 L500.8 1097.8 L501.5 1084.8 L501.8 1058.5 L502.3 1044.0 L503.3 1035.2 L504.0 993.9 L504.8 932.6 L506.3 909.4 L507.8 887.1 L509.5 1027.7 L510.5 1014.7 L512.0 1004.7 L513.0 944.6 L515.5 935.1 L519.3 922.6 L522.0 999.7 L524.3 986.9 L525.5 1005.2 L527.0 1016.5 L529.3 1013.2 L530.3 1042.2 L531.5 1076.5 L533.3 1057.8 L536.5 1056.0 L537.5 1087.3 L539.0 1110.3 L540.5 1117.3 L542.0 1090.3 L544.5 1098.5 L545.8 1080.3 L547.5 1087.8 L550.1 1057.0 L551.3 1103.6 L553.1 1060.3 L554.6 1097.8 L556.3 1107.8 L558.1 1118.3 L559.6 1085.3 L560.8 1074.8 L562.1 1097.8 L563.8 1077.8 L564.6 1091.5 L565.6 1112.8 L567.1 1121.1 L568.8 1099.0 L570.3 1069.0 L571.3 1082.8 L572.1 1106.6 L573.1 1111.6 L574.1 1119.8 L575.1 1127.8 L576.6 1135.3 L578.1 1140.3 L579.6 1127.8 L580.6 1148.3 L582.1 1150.4 L583.3 1146.6 L584.6 1138.3 L585.6 1125.3 L586.3 1100.3 L587.6 1111.6 L589.1 1131.6 L590.6 1112.8 L591.8 1125.3 L592.8 1149.1 L594.1 1125.3 L595.1 1104.6 L596.6 1124.1 L598.3 1139.8 L600.1 1124.1 L601.1 1135.3 L602.1 1112.8 L603.1 1117.8 L604.1 1107.8 L605.1 1099.0 L606.1 1069.0 L607.6 1081.5 L609.4 1076.5 L610.6 1049.5 L611.6 1024.0 L612.6 1017.7 L613.6 1005.2 L614.9 982.7 L616.4 1012.2 L618.1 1005.2 L619.6 1000.2 L620.4 1029.7 L621.6 1023.5 L622.6 1049.0 L624.4 1063.3 L625.9 1060.3 L627.1 1050.3 L628.1 1022.2 L629.6 1047.2 L631.1 1062.8 L632.9 1065.8 L633.4 1074.0 L634.6 1060.3 L635.9 1069.0 L636.6 1075.3 L637.1 1091.5 L638.9 1095.3 L640.1 1095.8 L641.9 1086.0 L643.1 1076.5 L644.4 1042.2 L646.1 1032.7 L647.6 1025.7 L649.1 1073.3 L650.2 1043.5 L651.7 1062.8 L653.7 1068.3 L655.2 1014.7 L656.2 1034.7 L657.7 1057.8 L659.2 1034.0 L660.9 953.9 L660.9 1044.0 L662.7 1060.8 L661.7 1071.5 L664.2 1072.0 L663.2 1086.5 L665.2 1091.5 L667.2 1098.3 L668.2 1102.8 L669.7 1108.3 L672.2 1102.8 L673.7 1116.6 L675.9 1114.8 L676.9 1126.6 L677.7 1129.6 L678.9 1119.1 L679.9 1099.0 L680.9 1055.3 L684.7 1054.8 L687.7 977.7 L691.2 962.2 L694.7 947.1 L698.2 987.7 L699.7 1013.5 L703.7 939.4 L705.7 1009.0 L707.0 967.2 L707.7 1041.5 L709.2 1044.0 L710.2 1063.5 L712.0 1050.3 L713.2 1065.8 L714.7 1050.3 L716.0 1062.8 L717.0 1037.7 L718.2 1033.2 L719.2 999.7 L720.2 1035.2 L721.2 1020.2 L722.2 1000.2 L724.0 1006.5 L726.5 963.9 L727.5 979.7 L728.2 1045.2 L729.2 1036.5 L730.7 1024.7 L731.7 1030.2 L733.2 1012.7 L734.2 1062.8 L734.7 1081.5 L736.0 1008.2 L737.0 990.9 L739.0 954.7 L740.2 992.7 L741.5 1032.2 L742.7 982.7 L743.7 1040.2 L745.2 1047.7 L746.2 1057.8 L747.7 1062.8 L749.2 1052.3 L747.2 1090.3 L748.2 1099.0 L749.7 1106.6 L751.0 1125.3 L752.3 1134.1 L753.3 1127.8 L754.3 1109.1 L755.8 1105.3 L757.3 1099.0 L758.8 1096.5 L760.0 1102.8 L761.0 1114.1 L762.5 1110.3 L763.0 1061.5 L765.0 1034.0 L766.0 1075.3 L767.0 975.9 L768.0 995.2 L768.8 1016.5 L769.5 1077.8 L771.0 1084.0 L770.5 1114.1 L771.0 1132.8 L772.5 1149.6 L773.8 1125.3 L775.0 1110.3 L777.0 1112.8 L778.8 1145.8 L779.5 1111.6 L780.5 1132.8 L781.5 1118.3 L782.8 1029.7 L783.8 1128.3 L785.0 1052.8 L785.8 1119.8 L787.0 1046.5 L788.0 1084.0 L788.8 1100.3 L789.3 1006.5 L789.3 950.2 L791.3 985.2 L792.5 1027.7 L793.8 1020.2 L794.5 951.4 L795.3 961.4 L795.8 1057.8 L797.0 1014.0 L798.0 1035.2 L797.5 1021.5 L799.0 1065.3 L800.1 1070.3 L801.1 1077.8 L801.6 1095.3 L802.1 1105.3 L803.1 1028.2 L804.3 1065.3 L805.6 1097.8 L806.8 1117.8 L808.1 1021.5 L809.1 1075.3 L810.1 1000.2 L810.8 1007.2 L811.6 1107.8 L812.6 1019.7 L813.6 1072.8 L814.6 1106.6 L815.6 1090.3 L816.6 960.2 L818.1 929.4 L818.1 1049.7 L819.1 1062.8 L820.1 1102.8 L821.1 1099.0 L822.1 1070.3 L823.1 1112.8 L824.1 1090.3 L825.1 1071.0 L826.1 1110.3 L827.1 1095.3 L828.1 1119.6 L829.1 1091.5 L830.6 1094.0 L832.1 1084.0 L833.6 1087.3 L835.1 1080.3 L835.1 1061.5 L837.1 1067.8 L838.8 1060.3 L840.1 1003.2 L842.6 1030.7 L843.8 997.7 L845.3 976.9 L847.1 933.9 L850.6 953.9 L852.1 928.4 L853.9 922.6 L855.9 932.6 L857.4 956.4 L858.9 986.4 L860.4 1007.2 L862.6 1013.2 L863.9 1047.7 L865.6 1056.5 L867.1 1070.3 L869.6 1071.5 L870.9 1053.3 L872.1 1026.5 L873.9 1012.7 L875.9 1044.0 L877.6 1092.3 L879.4 1009.0 L880.6 963.2 L882.6 953.9 L884.4 1069.0 L886.4 1007.7 L888.1 1041.0 L889.6 1001.0 L894.4 952.2 L896.1 1010.7 L897.6 1057.8 L899.6 963.2 L901.4 1030.2 L903.2 1080.8 L905.2 1070.3 L906.4 1042.2 L908.2 1026.0 L910.2 1067.3 L911.4 1014.5 L913.4 1022.2 L914.7 998.2 L916.4 935.1 L918.9 957.7 L921.7 931.4 L923.2 1014.0 L926.7 906.4 L928.4 1012.7 L929.7 1047.7 L931.9 1070.3 L933.9 1045.7 L934.7 1029.0 L936.9 999.4 L938.4 1010.2 L940.2 1027.0 L941.9 1039.5 L943.9 1032.7 L948.4 1014.5 L951.5 1029.0 L955.2 1018.5 L958.2 985.9 L964.0 941.4 L967.2 961.4 L969.5 908.9 L972.0 1070.8 L975.2 1060.8 L977.2 1052.8 L980.2 1045.2 L982.7 1070.3 L985.7 1055.8 L987.0 1042.2 L987.7 1005.7 L990.2 873.8 L991.5 1002.7 L993.2 978.9 L994.7 1020.2 L996.0 1049.0 L997.2 1025.2 L998.2 965.9 L999.0 1080.3 L1001.0 1077.3 L1002.3 1084.0 L1000.8 1090.3 L1002.8 1099.0 L1004.0 1101.6 L1005.3 1110.3 L1007.8 1105.3 L1006.5 1114.1 L1010.3 1114.6 L1008.8 1123.6" fill="none" stroke="#0000ff" stroke-width="2.15" stroke-linejoin="round"/>
<g fill="#0000ff"><circle cx="117.6" cy="1044.8" r="3.7"/><circle cx="117.1" cy="1079.0" r="3.7"/><circle cx="119.6" cy="1080.3" r="3.7"/><circle cx="119.6" cy="1089.0" r="3.7"/><circle cx="121.4" cy="1097.3" r="3.7"/><circle cx="123.1" cy="1094.1" r="3.7"/><circle cx="124.6" cy="1092.8" r="3.7"/><circle cx="125.9" cy="1084.0" r="3.7"/><circle cx="127.6" cy="1087.8" r="3.7"/><circle cx="129.6" cy="1087.8" r="3.7"/><circle cx="130.1" cy="1078.3" r="3.7"/><circle cx="130.9" cy="1053.3" r="3.7"/><circle cx="131.9" cy="999.7" r="3.7"/><circle cx="132.9" cy="980.2" r="3.7"/><circle cx="134.4" cy="973.4" r="3.7"/><circle cx="134.1" cy="992.2" r="3.7"/><circle cx="135.1" cy="1007.7" r="3.7"/><circle cx="136.6" cy="994.0" r="3.7"/><circle cx="137.1" cy="1005.2" r="3.7"/><circle cx="138.4" cy="1045.3" r="3.7"/><circle cx="139.6" cy="1005.7" r="3.7"/><circle cx="140.6" cy="1074.0" r="3.7"/><circle cx="142.1" cy="1072.8" r="3.7"/><circle cx="143.6" cy="1072.3" r="3.7"/><circle cx="145.4" cy="1015.2" r="3.7"/><circle cx="146.6" cy="1042.8" r="3.7"/><circle cx="147.6" cy="1059.0" r="3.7"/><circle cx="148.4" cy="1049.0" r="3.7"/><circle cx="149.4" cy="1061.5" r="3.7"/><circle cx="150.7" cy="1050.3" r="3.7"/><circle cx="151.7" cy="1062.8" r="3.7"/><circle cx="152.7" cy="1051.5" r="3.7"/><circle cx="154.2" cy="1067.8" r="3.7"/><circle cx="155.4" cy="1051.5" r="3.7"/><circle cx="156.7" cy="1065.3" r="3.7"/><circle cx="157.9" cy="1087.8" r="3.7"/><circle cx="159.7" cy="1095.8" r="3.7"/><circle cx="160.2" cy="1045.8" r="3.7"/><circle cx="161.4" cy="1060.3" r="3.7"/><circle cx="162.7" cy="1084.0" r="3.7"/><circle cx="163.9" cy="1047.8" r="3.7"/><circle cx="165.2" cy="1042.8" r="3.7"/><circle cx="166.2" cy="1032.2" r="3.7"/><circle cx="167.2" cy="1080.3" r="3.7"/><circle cx="168.9" cy="1071.5" r="3.7"/><circle cx="170.9" cy="1079.0" r="3.7"/><circle cx="172.2" cy="1042.8" r="3.7"/><circle cx="173.7" cy="1031.5" r="3.7"/><circle cx="175.2" cy="1024.5" r="3.7"/><circle cx="176.7" cy="977.7" r="3.7"/><circle cx="178.2" cy="970.2" r="3.7"/><circle cx="180.2" cy="899.1" r="3.7"/><circle cx="181.9" cy="950.9" r="3.7"/><circle cx="182.9" cy="985.9" r="3.7"/><circle cx="183.9" cy="1005.7" r="3.7"/><circle cx="184.9" cy="1011.5" r="3.7"/><circle cx="184.7" cy="1032.7" r="3.7"/><circle cx="182.7" cy="1044.8" r="3.7"/><circle cx="185.9" cy="1044.0" r="3.7"/><circle cx="186.4" cy="1085.3" r="3.7"/><circle cx="185.9" cy="1104.1" r="3.7"/><circle cx="187.2" cy="1095.3" r="3.7"/><circle cx="188.2" cy="1111.6" r="3.7"/><circle cx="189.2" cy="1061.5" r="3.7"/><circle cx="189.7" cy="1115.3" r="3.7"/><circle cx="191.4" cy="1121.6" r="3.7"/><circle cx="192.7" cy="1100.3" r="3.7"/><circle cx="193.9" cy="1072.8" r="3.7"/><circle cx="195.2" cy="1059.8" r="3.7"/><circle cx="196.4" cy="1049.0" r="3.7"/><circle cx="197.2" cy="1037.2" r="3.7"/><circle cx="197.7" cy="1107.8" r="3.7"/><circle cx="199.4" cy="1072.8" r="3.7"/><circle cx="200.2" cy="1102.8" r="3.7"/><circle cx="201.2" cy="1072.8" r="3.7"/><circle cx="202.2" cy="1094.1" r="3.7"/><circle cx="203.2" cy="1102.8" r="3.7"/><circle cx="204.7" cy="1042.3" r="3.7"/><circle cx="206.0" cy="1115.3" r="3.7"/><circle cx="206.7" cy="1072.8" r="3.7"/><circle cx="208.2" cy="1065.3" r="3.7"/><circle cx="209.7" cy="1082.8" r="3.7"/><circle cx="211.2" cy="1065.3" r="3.7"/><circle cx="212.7" cy="1085.3" r="3.7"/><circle cx="214.0" cy="1061.5" r="3.7"/><circle cx="215.2" cy="1090.3" r="3.7"/><circle cx="216.5" cy="1047.8" r="3.7"/><circle cx="217.7" cy="1089.0" r="3.7"/><circle cx="219.0" cy="1055.3" r="3.7"/><circle cx="220.2" cy="1086.5" r="3.7"/><circle cx="221.2" cy="1060.3" r="3.7"/><circle cx="222.7" cy="1067.8" r="3.7"/><circle cx="224.2" cy="1077.8" r="3.7"/><circle cx="225.7" cy="1087.8" r="3.7"/><circle cx="227.2" cy="1095.3" r="3.7"/><circle cx="229.2" cy="1098.3" r="3.7"/><circle cx="230.7" cy="1099.1" r="3.7"/><circle cx="232.5" cy="1094.1" r="3.7"/><circle cx="233.7" cy="1077.8" r="3.7"/><circle cx="234.5" cy="1066.0" r="3.7"/><circle cx="235.2" cy="1056.5" r="3.7"/><circle cx="236.7" cy="1055.3" r="3.7"/><circle cx="237.5" cy="1047.0" r="3.7"/><circle cx="238.2" cy="1009.7" r="3.7"/><circle cx="242.7" cy="980.9" r="3.7"/><circle cx="250.3" cy="951.4" r="3.7"/><circle cx="257.8" cy="922.6" r="3.7"/><circle cx="264.5" cy="958.4" r="3.7"/><circle cx="268.8" cy="1039.0" r="3.7"/><circle cx="270.5" cy="998.9" r="3.7"/><circle cx="273.8" cy="1010.2" r="3.7"/><circle cx="276.8" cy="996.4" r="3.7"/><circle cx="278.8" cy="941.4" r="3.7"/><circle cx="287.0" cy="925.9" r="3.7"/><circle cx="288.8" cy="900.6" r="3.7"/><circle cx="290.0" cy="923.9" r="3.7"/><circle cx="290.5" cy="988.9" r="3.7"/><circle cx="290.8" cy="1025.2" r="3.7"/><circle cx="291.5" cy="1039.0" r="3.7"/><circle cx="292.5" cy="1057.8" r="3.7"/><circle cx="292.0" cy="1069.0" r="3.7"/><circle cx="293.8" cy="1077.8" r="3.7"/><circle cx="295.0" cy="1057.8" r="3.7"/><circle cx="295.5" cy="1082.8" r="3.7"/><circle cx="297.5" cy="1050.3" r="3.7"/><circle cx="298.0" cy="1075.3" r="3.7"/><circle cx="299.5" cy="1065.3" r="3.7"/><circle cx="300.6" cy="1085.3" r="3.7"/><circle cx="301.3" cy="1091.5" r="3.7"/><circle cx="302.6" cy="1057.8" r="3.7"/><circle cx="303.8" cy="1104.1" r="3.7"/><circle cx="305.1" cy="1094.0" r="3.7"/><circle cx="306.3" cy="1059.0" r="3.7"/><circle cx="307.6" cy="1087.8" r="3.7"/><circle cx="308.8" cy="1060.3" r="3.7"/><circle cx="310.1" cy="1085.3" r="3.7"/><circle cx="311.3" cy="1059.0" r="3.7"/><circle cx="312.6" cy="1077.8" r="3.7"/><circle cx="313.8" cy="1072.8" r="3.7"/><circle cx="315.6" cy="1067.8" r="3.7"/><circle cx="317.1" cy="1060.3" r="3.7"/><circle cx="318.1" cy="1052.8" r="3.7"/><circle cx="319.1" cy="1009.0" r="3.7"/><circle cx="321.3" cy="970.9" r="3.7"/><circle cx="322.8" cy="959.7" r="3.7"/><circle cx="324.3" cy="1050.3" r="3.7"/><circle cx="325.8" cy="1039.0" r="3.7"/><circle cx="327.8" cy="976.4" r="3.7"/><circle cx="328.8" cy="1062.3" r="3.7"/><circle cx="330.6" cy="1076.5" r="3.7"/><circle cx="329.6" cy="1091.5" r="3.7"/><circle cx="331.8" cy="1102.8" r="3.7"/><circle cx="335.1" cy="1104.1" r="3.7"/><circle cx="336.3" cy="1091.5" r="3.7"/><circle cx="337.8" cy="1066.5" r="3.7"/><circle cx="339.6" cy="1090.3" r="3.7"/><circle cx="343.1" cy="1098.3" r="3.7"/><circle cx="344.6" cy="1085.3" r="3.7"/><circle cx="346.3" cy="1080.3" r="3.7"/><circle cx="348.1" cy="1065.3" r="3.7"/><circle cx="349.6" cy="1061.5" r="3.7"/><circle cx="351.1" cy="1033.2" r="3.7"/><circle cx="354.6" cy="1055.8" r="3.7"/><circle cx="356.4" cy="1025.2" r="3.7"/><circle cx="357.6" cy="937.1" r="3.7"/><circle cx="359.4" cy="865.8" r="3.7"/><circle cx="361.4" cy="986.4" r="3.7"/><circle cx="362.6" cy="1071.0" r="3.7"/><circle cx="364.6" cy="998.9" r="3.7"/><circle cx="366.4" cy="921.9" r="3.7"/><circle cx="367.6" cy="935.1" r="3.7"/><circle cx="369.6" cy="1075.8" r="3.7"/><circle cx="371.1" cy="1060.3" r="3.7"/><circle cx="374.6" cy="1062.3" r="3.7"/><circle cx="375.9" cy="1040.2" r="3.7"/><circle cx="377.1" cy="1034.5" r="3.7"/><circle cx="378.1" cy="988.2" r="3.7"/><circle cx="379.4" cy="971.4" r="3.7"/><circle cx="380.4" cy="958.2" r="3.7"/><circle cx="381.6" cy="1019.7" r="3.7"/><circle cx="382.6" cy="1057.8" r="3.7"/><circle cx="384.1" cy="1041.5" r="3.7"/><circle cx="385.9" cy="1009.7" r="3.7"/><circle cx="387.6" cy="1039.7" r="3.7"/><circle cx="389.1" cy="1061.5" r="3.7"/><circle cx="390.6" cy="1064.0" r="3.7"/><circle cx="392.6" cy="1056.5" r="3.7"/><circle cx="394.4" cy="1070.8" r="3.7"/><circle cx="395.9" cy="1055.3" r="3.7"/><circle cx="396.4" cy="1035.2" r="3.7"/><circle cx="397.6" cy="1018.2" r="3.7"/><circle cx="399.6" cy="1034.0" r="3.7"/><circle cx="401.9" cy="1035.2" r="3.7"/><circle cx="403.2" cy="1050.3" r="3.7"/><circle cx="404.7" cy="1061.5" r="3.7"/><circle cx="406.4" cy="1065.3" r="3.7"/><circle cx="408.2" cy="1069.0" r="3.7"/><circle cx="409.7" cy="1072.8" r="3.7"/><circle cx="411.4" cy="1077.8" r="3.7"/><circle cx="412.7" cy="1094.0" r="3.7"/><circle cx="413.9" cy="1082.8" r="3.7"/><circle cx="414.9" cy="1102.8" r="3.7"/><circle cx="416.4" cy="1082.3" r="3.7"/><circle cx="417.2" cy="1070.8" r="3.7"/><circle cx="418.2" cy="999.7" r="3.7"/><circle cx="419.2" cy="930.9" r="3.7"/><circle cx="420.4" cy="897.1" r="3.7"/><circle cx="421.4" cy="868.1" r="3.7"/><circle cx="422.7" cy="950.2" r="3.7"/><circle cx="424.7" cy="1000.2" r="3.7"/><circle cx="428.2" cy="1030.2" r="3.7"/><circle cx="431.9" cy="1013.2" r="3.7"/><circle cx="434.9" cy="913.9" r="3.7"/><circle cx="438.7" cy="858.8" r="3.7"/><circle cx="442.2" cy="872.1" r="3.7"/><circle cx="445.4" cy="1045.2" r="3.7"/><circle cx="447.7" cy="1020.2" r="3.7"/><circle cx="449.4" cy="993.9" r="3.7"/><circle cx="452.2" cy="1022.7" r="3.7"/><circle cx="453.2" cy="1031.5" r="3.7"/><circle cx="456.2" cy="1067.8" r="3.7"/><circle cx="459.7" cy="1078.5" r="3.7"/><circle cx="462.7" cy="1070.3" r="3.7"/><circle cx="464.7" cy="1074.0" r="3.7"/><circle cx="466.0" cy="1061.5" r="3.7"/><circle cx="467.2" cy="1076.5" r="3.7"/><circle cx="468.5" cy="1056.5" r="3.7"/><circle cx="469.7" cy="1077.8" r="3.7"/><circle cx="471.2" cy="1081.5" r="3.7"/><circle cx="472.2" cy="1070.3" r="3.7"/><circle cx="473.2" cy="1022.0" r="3.7"/><circle cx="474.7" cy="993.2" r="3.7"/><circle cx="475.7" cy="1032.7" r="3.7"/><circle cx="476.7" cy="1041.5" r="3.7"/><circle cx="477.2" cy="1086.5" r="3.7"/><circle cx="478.5" cy="1062.8" r="3.7"/><circle cx="479.7" cy="1092.8" r="3.7"/><circle cx="481.5" cy="1049.0" r="3.7"/><circle cx="482.7" cy="1087.8" r="3.7"/><circle cx="484.0" cy="1085.3" r="3.7"/><circle cx="485.2" cy="1057.8" r="3.7"/><circle cx="486.5" cy="1085.3" r="3.7"/><circle cx="487.2" cy="1071.5" r="3.7"/><circle cx="488.2" cy="1076.5" r="3.7"/><circle cx="489.0" cy="1095.3" r="3.7"/><circle cx="489.7" cy="1117.8" r="3.7"/><circle cx="490.5" cy="1132.1" r="3.7"/><circle cx="496.5" cy="1109.1" r="3.7"/><circle cx="498.5" cy="1115.3" r="3.7"/><circle cx="499.0" cy="1085.3" r="3.7"/><circle cx="500.8" cy="1097.8" r="3.7"/><circle cx="501.5" cy="1084.8" r="3.7"/><circle cx="501.8" cy="1058.5" r="3.7"/><circle cx="502.3" cy="1044.0" r="3.7"/><circle cx="503.3" cy="1035.2" r="3.7"/><circle cx="504.0" cy="993.9" r="3.7"/><circle cx="504.8" cy="932.6" r="3.7"/><circle cx="506.3" cy="909.4" r="3.7"/><circle cx="507.8" cy="887.1" r="3.7"/><circle cx="509.5" cy="1027.7" r="3.7"/><circle cx="510.5" cy="1014.7" r="3.7"/><circle cx="512.0" cy="1004.7" r="3.7"/><circle cx="513.0" cy="944.6" r="3.7"/><circle cx="515.5" cy="935.1" r="3.7"/><circle cx="519.3" cy="922.6" r="3.7"/><circle cx="522.0" cy="999.7" r="3.7"/><circle cx="524.3" cy="986.9" r="3.7"/><circle cx="525.5" cy="1005.2" r="3.7"/><circle cx="527.0" cy="1016.5" r="3.7"/><circle cx="529.3" cy="1013.2" r="3.7"/><circle cx="530.3" cy="1042.2" r="3.7"/><circle cx="531.5" cy="1076.5" r="3.7"/><circle cx="533.3" cy="1057.8" r="3.7"/><circle cx="536.5" cy="1056.0" r="3.7"/><circle cx="537.5" cy="1087.3" r="3.7"/><circle cx="539.0" cy="1110.3" r="3.7"/><circle cx="540.5" cy="1117.3" r="3.7"/><circle cx="542.0" cy="1090.3" r="3.7"/><circle cx="544.5" cy="1098.5" r="3.7"/><circle cx="545.8" cy="1080.3" r="3.7"/><circle cx="547.5" cy="1087.8" r="3.7"/><circle cx="550.1" cy="1057.0" r="3.7"/><circle cx="551.3" cy="1103.6" r="3.7"/><circle cx="553.1" cy="1060.3" r="3.7"/><circle cx="554.6" cy="1097.8" r="3.7"/><circle cx="556.3" cy="1107.8" r="3.7"/><circle cx="558.1" cy="1118.3" r="3.7"/><circle cx="559.6" cy="1085.3" r="3.7"/><circle cx="560.8" cy="1074.8" r="3.7"/><circle cx="562.1" cy="1097.8" r="3.7"/><circle cx="563.8" cy="1077.8" r="3.7"/><circle cx="564.6" cy="1091.5" r="3.7"/><circle cx="565.6" cy="1112.8" r="3.7"/><circle cx="567.1" cy="1121.1" r="3.7"/><circle cx="568.8" cy="1099.0" r="3.7"/><circle cx="570.3" cy="1069.0" r="3.7"/><circle cx="571.3" cy="1082.8" r="3.7"/><circle cx="572.1" cy="1106.6" r="3.7"/><circle cx="573.1" cy="1111.6" r="3.7"/><circle cx="574.1" cy="1119.8" r="3.7"/><circle cx="575.1" cy="1127.8" r="3.7"/><circle cx="576.6" cy="1135.3" r="3.7"/><circle cx="578.1" cy="1140.3" r="3.7"/><circle cx="579.6" cy="1127.8" r="3.7"/><circle cx="580.6" cy="1148.3" r="3.7"/><circle cx="582.1" cy="1150.4" r="3.7"/><circle cx="583.3" cy="1146.6" r="3.7"/><circle cx="584.6" cy="1138.3" r="3.7"/><circle cx="585.6" cy="1125.3" r="3.7"/><circle cx="586.3" cy="1100.3" r="3.7"/><circle cx="587.6" cy="1111.6" r="3.7"/><circle cx="589.1" cy="1131.6" r="3.7"/><circle cx="590.6" cy="1112.8" r="3.7"/><circle cx="591.8" cy="1125.3" r="3.7"/><circle cx="592.8" cy="1149.1" r="3.7"/><circle cx="594.1" cy="1125.3" r="3.7"/><circle cx="595.1" cy="1104.6" r="3.7"/><circle cx="596.6" cy="1124.1" r="3.7"/><circle cx="598.3" cy="1139.8" r="3.7"/><circle cx="600.1" cy="1124.1" r="3.7"/><circle cx="601.1" cy="1135.3" r="3.7"/><circle cx="602.1" cy="1112.8" r="3.7"/><circle cx="603.1" cy="1117.8" r="3.7"/><circle cx="604.1" cy="1107.8" r="3.7"/><circle cx="605.1" cy="1099.0" r="3.7"/><circle cx="606.1" cy="1069.0" r="3.7"/><circle cx="607.6" cy="1081.5" r="3.7"/><circle cx="609.4" cy="1076.5" r="3.7"/><circle cx="610.6" cy="1049.5" r="3.7"/><circle cx="611.6" cy="1024.0" r="3.7"/><circle cx="612.6" cy="1017.7" r="3.7"/><circle cx="613.6" cy="1005.2" r="3.7"/><circle cx="614.9" cy="982.7" r="3.7"/><circle cx="616.4" cy="1012.2" r="3.7"/><circle cx="618.1" cy="1005.2" r="3.7"/><circle cx="619.6" cy="1000.2" r="3.7"/><circle cx="620.4" cy="1029.7" r="3.7"/><circle cx="621.6" cy="1023.5" r="3.7"/><circle cx="622.6" cy="1049.0" r="3.7"/><circle cx="624.4" cy="1063.3" r="3.7"/><circle cx="625.9" cy="1060.3" r="3.7"/><circle cx="627.1" cy="1050.3" r="3.7"/><circle cx="628.1" cy="1022.2" r="3.7"/><circle cx="629.6" cy="1047.2" r="3.7"/><circle cx="631.1" cy="1062.8" r="3.7"/><circle cx="632.9" cy="1065.8" r="3.7"/><circle cx="633.4" cy="1074.0" r="3.7"/><circle cx="634.6" cy="1060.3" r="3.7"/><circle cx="635.9" cy="1069.0" r="3.7"/><circle cx="636.6" cy="1075.3" r="3.7"/><circle cx="637.1" cy="1091.5" r="3.7"/><circle cx="638.9" cy="1095.3" r="3.7"/><circle cx="640.1" cy="1095.8" r="3.7"/><circle cx="641.9" cy="1086.0" r="3.7"/><circle cx="643.1" cy="1076.5" r="3.7"/><circle cx="644.4" cy="1042.2" r="3.7"/><circle cx="646.1" cy="1032.7" r="3.7"/><circle cx="647.6" cy="1025.7" r="3.7"/><circle cx="649.1" cy="1073.3" r="3.7"/><circle cx="650.2" cy="1043.5" r="3.7"/><circle cx="651.7" cy="1062.8" r="3.7"/><circle cx="653.7" cy="1068.3" r="3.7"/><circle cx="655.2" cy="1014.7" r="3.7"/><circle cx="656.2" cy="1034.7" r="3.7"/><circle cx="657.7" cy="1057.8" r="3.7"/><circle cx="659.2" cy="1034.0" r="3.7"/><circle cx="660.9" cy="953.9" r="3.7"/><circle cx="660.9" cy="1044.0" r="3.7"/><circle cx="662.7" cy="1060.8" r="3.7"/><circle cx="661.7" cy="1071.5" r="3.7"/><circle cx="664.2" cy="1072.0" r="3.7"/><circle cx="663.2" cy="1086.5" r="3.7"/><circle cx="665.2" cy="1091.5" r="3.7"/><circle cx="667.2" cy="1098.3" r="3.7"/><circle cx="668.2" cy="1102.8" r="3.7"/><circle cx="669.7" cy="1108.3" r="3.7"/><circle cx="672.2" cy="1102.8" r="3.7"/><circle cx="673.7" cy="1116.6" r="3.7"/><circle cx="675.9" cy="1114.8" r="3.7"/><circle cx="676.9" cy="1126.6" r="3.7"/><circle cx="677.7" cy="1129.6" r="3.7"/><circle cx="678.9" cy="1119.1" r="3.7"/><circle cx="679.9" cy="1099.0" r="3.7"/><circle cx="680.9" cy="1055.3" r="3.7"/><circle cx="684.7" cy="1054.8" r="3.7"/><circle cx="687.7" cy="977.7" r="3.7"/><circle cx="691.2" cy="962.2" r="3.7"/><circle cx="694.7" cy="947.1" r="3.7"/><circle cx="698.2" cy="987.7" r="3.7"/><circle cx="699.7" cy="1013.5" r="3.7"/><circle cx="703.7" cy="939.4" r="3.7"/><circle cx="705.7" cy="1009.0" r="3.7"/><circle cx="707.0" cy="967.2" r="3.7"/><circle cx="707.7" cy="1041.5" r="3.7"/><circle cx="709.2" cy="1044.0" r="3.7"/><circle cx="710.2" cy="1063.5" r="3.7"/><circle cx="712.0" cy="1050.3" r="3.7"/><circle cx="713.2" cy="1065.8" r="3.7"/><circle cx="714.7" cy="1050.3" r="3.7"/><circle cx="716.0" cy="1062.8" r="3.7"/><circle cx="717.0" cy="1037.7" r="3.7"/><circle cx="718.2" cy="1033.2" r="3.7"/><circle cx="719.2" cy="999.7" r="3.7"/><circle cx="720.2" cy="1035.2" r="3.7"/><circle cx="721.2" cy="1020.2" r="3.7"/><circle cx="722.2" cy="1000.2" r="3.7"/><circle cx="724.0" cy="1006.5" r="3.7"/><circle cx="726.5" cy="963.9" r="3.7"/><circle cx="727.5" cy="979.7" r="3.7"/><circle cx="728.2" cy="1045.2" r="3.7"/><circle cx="729.2" cy="1036.5" r="3.7"/><circle cx="730.7" cy="1024.7" r="3.7"/><circle cx="731.7" cy="1030.2" r="3.7"/><circle cx="733.2" cy="1012.7" r="3.7"/><circle cx="734.2" cy="1062.8" r="3.7"/><circle cx="734.7" cy="1081.5" r="3.7"/><circle cx="736.0" cy="1008.2" r="3.7"/><circle cx="737.0" cy="990.9" r="3.7"/><circle cx="739.0" cy="954.7" r="3.7"/><circle cx="740.2" cy="992.7" r="3.7"/><circle cx="741.5" cy="1032.2" r="3.7"/><circle cx="742.7" cy="982.7" r="3.7"/><circle cx="743.7" cy="1040.2" r="3.7"/><circle cx="745.2" cy="1047.7" r="3.7"/><circle cx="746.2" cy="1057.8" r="3.7"/><circle cx="747.7" cy="1062.8" r="3.7"/><circle cx="749.2" cy="1052.3" r="3.7"/><circle cx="747.2" cy="1090.3" r="3.7"/><circle cx="748.2" cy="1099.0" r="3.7"/><circle cx="749.7" cy="1106.6" r="3.7"/><circle cx="751.0" cy="1125.3" r="3.7"/><circle cx="752.3" cy="1134.1" r="3.7"/><circle cx="753.3" cy="1127.8" r="3.7"/><circle cx="754.3" cy="1109.1" r="3.7"/><circle cx="755.8" cy="1105.3" r="3.7"/><circle cx="757.3" cy="1099.0" r="3.7"/><circle cx="758.8" cy="1096.5" r="3.7"/><circle cx="760.0" cy="1102.8" r="3.7"/><circle cx="761.0" cy="1114.1" r="3.7"/><circle cx="762.5" cy="1110.3" r="3.7"/><circle cx="763.0" cy="1061.5" r="3.7"/><circle cx="765.0" cy="1034.0" r="3.7"/><circle cx="766.0" cy="1075.3" r="3.7"/><circle cx="767.0" cy="975.9" r="3.7"/><circle cx="768.0" cy="995.2" r="3.7"/><circle cx="768.8" cy="1016.5" r="3.7"/><circle cx="769.5" cy="1077.8" r="3.7"/><circle cx="771.0" cy="1084.0" r="3.7"/><circle cx="770.5" cy="1114.1" r="3.7"/><circle cx="771.0" cy="1132.8" r="3.7"/><circle cx="772.5" cy="1149.6" r="3.7"/><circle cx="773.8" cy="1125.3" r="3.7"/><circle cx="775.0" cy="1110.3" r="3.7"/><circle cx="777.0" cy="1112.8" r="3.7"/><circle cx="778.8" cy="1145.8" r="3.7"/><circle cx="779.5" cy="1111.6" r="3.7"/><circle cx="780.5" cy="1132.8" r="3.7"/><circle cx="781.5" cy="1118.3" r="3.7"/><circle cx="782.8" cy="1029.7" r="3.7"/><circle cx="783.8" cy="1128.3" r="3.7"/><circle cx="785.0" cy="1052.8" r="3.7"/><circle cx="785.8" cy="1119.8" r="3.7"/><circle cx="787.0" cy="1046.5" r="3.7"/><circle cx="788.0" cy="1084.0" r="3.7"/><circle cx="788.8" cy="1100.3" r="3.7"/><circle cx="789.3" cy="1006.5" r="3.7"/><circle cx="789.3" cy="950.2" r="3.7"/><circle cx="791.3" cy="985.2" r="3.7"/><circle cx="792.5" cy="1027.7" r="3.7"/><circle cx="793.8" cy="1020.2" r="3.7"/><circle cx="794.5" cy="951.4" r="3.7"/><circle cx="795.3" cy="961.4" r="3.7"/><circle cx="795.8" cy="1057.8" r="3.7"/><circle cx="797.0" cy="1014.0" r="3.7"/><circle cx="798.0" cy="1035.2" r="3.7"/><circle cx="797.5" cy="1021.5" r="3.7"/><circle cx="799.0" cy="1065.3" r="3.7"/><circle cx="800.1" cy="1070.3" r="3.7"/><circle cx="801.1" cy="1077.8" r="3.7"/><circle cx="801.6" cy="1095.3" r="3.7"/><circle cx="802.1" cy="1105.3" r="3.7"/><circle cx="803.1" cy="1028.2" r="3.7"/><circle cx="804.3" cy="1065.3" r="3.7"/><circle cx="805.6" cy="1097.8" r="3.7"/><circle cx="806.8" cy="1117.8" r="3.7"/><circle cx="808.1" cy="1021.5" r="3.7"/><circle cx="809.1" cy="1075.3" r="3.7"/><circle cx="810.1" cy="1000.2" r="3.7"/><circle cx="810.8" cy="1007.2" r="3.7"/><circle cx="811.6" cy="1107.8" r="3.7"/><circle cx="812.6" cy="1019.7" r="3.7"/><circle cx="813.6" cy="1072.8" r="3.7"/><circle cx="814.6" cy="1106.6" r="3.7"/><circle cx="815.6" cy="1090.3" r="3.7"/><circle cx="816.6" cy="960.2" r="3.7"/><circle cx="818.1" cy="929.4" r="3.7"/><circle cx="818.1" cy="1049.7" r="3.7"/><circle cx="819.1" cy="1062.8" r="3.7"/><circle cx="820.1" cy="1102.8" r="3.7"/><circle cx="821.1" cy="1099.0" r="3.7"/><circle cx="822.1" cy="1070.3" r="3.7"/><circle cx="823.1" cy="1112.8" r="3.7"/><circle cx="824.1" cy="1090.3" r="3.7"/><circle cx="825.1" cy="1071.0" r="3.7"/><circle cx="826.1" cy="1110.3" r="3.7"/><circle cx="827.1" cy="1095.3" r="3.7"/><circle cx="828.1" cy="1119.6" r="3.7"/><circle cx="829.1" cy="1091.5" r="3.7"/><circle cx="830.6" cy="1094.0" r="3.7"/><circle cx="832.1" cy="1084.0" r="3.7"/><circle cx="833.6" cy="1087.3" r="3.7"/><circle cx="835.1" cy="1080.3" r="3.7"/><circle cx="835.1" cy="1061.5" r="3.7"/><circle cx="837.1" cy="1067.8" r="3.7"/><circle cx="838.8" cy="1060.3" r="3.7"/><circle cx="840.1" cy="1003.2" r="3.7"/><circle cx="842.6" cy="1030.7" r="3.7"/><circle cx="843.8" cy="997.7" r="3.7"/><circle cx="845.3" cy="976.9" r="3.7"/><circle cx="847.1" cy="933.9" r="3.7"/><circle cx="850.6" cy="953.9" r="3.7"/><circle cx="852.1" cy="928.4" r="3.7"/><circle cx="853.9" cy="922.6" r="3.7"/><circle cx="855.9" cy="932.6" r="3.7"/><circle cx="857.4" cy="956.4" r="3.7"/><circle cx="858.9" cy="986.4" r="3.7"/><circle cx="860.4" cy="1007.2" r="3.7"/><circle cx="862.6" cy="1013.2" r="3.7"/><circle cx="863.9" cy="1047.7" r="3.7"/><circle cx="865.6" cy="1056.5" r="3.7"/><circle cx="867.1" cy="1070.3" r="3.7"/><circle cx="869.6" cy="1071.5" r="3.7"/><circle cx="870.9" cy="1053.3" r="3.7"/><circle cx="872.1" cy="1026.5" r="3.7"/><circle cx="873.9" cy="1012.7" r="3.7"/><circle cx="875.9" cy="1044.0" r="3.7"/><circle cx="877.6" cy="1092.3" r="3.7"/><circle cx="879.4" cy="1009.0" r="3.7"/><circle cx="880.6" cy="963.2" r="3.7"/><circle cx="882.6" cy="953.9" r="3.7"/><circle cx="884.4" cy="1069.0" r="3.7"/><circle cx="886.4" cy="1007.7" r="3.7"/><circle cx="888.1" cy="1041.0" r="3.7"/><circle cx="889.6" cy="1001.0" r="3.7"/><circle cx="894.4" cy="952.2" r="3.7"/><circle cx="896.1" cy="1010.7" r="3.7"/><circle cx="897.6" cy="1057.8" r="3.7"/><circle cx="899.6" cy="963.2" r="3.7"/><circle cx="901.4" cy="1030.2" r="3.7"/><circle cx="903.2" cy="1080.8" r="3.7"/><circle cx="905.2" cy="1070.3" r="3.7"/><circle cx="906.4" cy="1042.2" r="3.7"/><circle cx="908.2" cy="1026.0" r="3.7"/><circle cx="910.2" cy="1067.3" r="3.7"/><circle cx="911.4" cy="1014.5" r="3.7"/><circle cx="913.4" cy="1022.2" r="3.7"/><circle cx="914.7" cy="998.2" r="3.7"/><circle cx="916.4" cy="935.1" r="3.7"/><circle cx="918.9" cy="957.7" r="3.7"/><circle cx="921.7" cy="931.4" r="3.7"/><circle cx="923.2" cy="1014.0" r="3.7"/><circle cx="926.7" cy="906.4" r="3.7"/><circle cx="928.4" cy="1012.7" r="3.7"/><circle cx="929.7" cy="1047.7" r="3.7"/><circle cx="931.9" cy="1070.3" r="3.7"/><circle cx="933.9" cy="1045.7" r="3.7"/><circle cx="934.7" cy="1029.0" r="3.7"/><circle cx="936.9" cy="999.4" r="3.7"/><circle cx="938.4" cy="1010.2" r="3.7"/><circle cx="940.2" cy="1027.0" r="3.7"/><circle cx="941.9" cy="1039.5" r="3.7"/><circle cx="943.9" cy="1032.7" r="3.7"/><circle cx="948.4" cy="1014.5" r="3.7"/><circle cx="951.5" cy="1029.0" r="3.7"/><circle cx="955.2" cy="1018.5" r="3.7"/><circle cx="958.2" cy="985.9" r="3.7"/><circle cx="964.0" cy="941.4" r="3.7"/><circle cx="967.2" cy="961.4" r="3.7"/><circle cx="969.5" cy="908.9" r="3.7"/><circle cx="972.0" cy="1070.8" r="3.7"/><circle cx="975.2" cy="1060.8" r="3.7"/><circle cx="977.2" cy="1052.8" r="3.7"/><circle cx="980.2" cy="1045.2" r="3.7"/><circle cx="982.7" cy="1070.3" r="3.7"/><circle cx="985.7" cy="1055.8" r="3.7"/><circle cx="987.0" cy="1042.2" r="3.7"/><circle cx="987.7" cy="1005.7" r="3.7"/><circle cx="990.2" cy="873.8" r="3.7"/><circle cx="991.5" cy="1002.7" r="3.7"/><circle cx="993.2" cy="978.9" r="3.7"/><circle cx="994.7" cy="1020.2" r="3.7"/><circle cx="996.0" cy="1049.0" r="3.7"/><circle cx="997.2" cy="1025.2" r="3.7"/><circle cx="998.2" cy="965.9" r="3.7"/><circle cx="999.0" cy="1080.3" r="3.7"/><circle cx="1001.0" cy="1077.3" r="3.7"/><circle cx="1002.3" cy="1084.0" r="3.7"/><circle cx="1000.8" cy="1090.3" r="3.7"/><circle cx="1002.8" cy="1099.0" r="3.7"/><circle cx="1004.0" cy="1101.6" r="3.7"/><circle cx="1005.3" cy="1110.3" r="3.7"/><circle cx="1007.8" cy="1105.3" r="3.7"/><circle cx="1006.5" cy="1114.1" r="3.7"/><circle cx="1010.3" cy="1114.6" r="3.7"/><circle cx="1008.8" cy="1123.6" r="3.7"/></g></g>
<clipPath id="cd"><rect x="117.3" y="1230" width="907.7" height="310.5"/></clipPath>
<g clip-path="url(#cd)"><path d="M118.9 1393.5 L122.1 1414.8 L125.6 1396.5 L128.6 1402.8 L131.9 1416.0 L135.9 1438.5 L139.4 1322.7 L143.1 1333.4 L146.4 1347.2 L149.6 1305.7 L156.7 1397.3 L159.7 1305.7 L163.2 1320.9 L166.7 1359.0 L170.4 1352.2 L174.2 1430.8 L177.2 1340.2 L180.4 1265.1 L186.9 1290.2 L190.4 1324.7 L193.2 1375.2 L196.7 1444.6 L199.4 1381.0 L203.0 1362.7 L206.2 1427.8 L209.2 1441.1 L212.2 1407.3 L215.7 1377.7 L219.0 1407.8 L230.2 1460.8 L234.2 1406.5 L238.7 1457.1 L242.2 1345.7 L246.2 1413.5 L250.3 1362.7 L253.8 1279.6 L257.8 1280.1 L261.8 1229.5 L265.3 1389.4 L269.0 1359.7 L273.0 1340.9 L277.3 1300.9 L280.8 1318.9 L284.8 1305.6 L288.0 1382.7 L291.8 1403.2 L294.5 1383.9 L297.5 1377.7 L300.6 1398.2 L303.6 1417.7 L306.1 1427.2 L308.8 1450.3 L311.3 1442.2 L315.1 1441.5 L317.8 1285.1 L321.1 1338.1 L324.6 1360.9 L327.8 1427.7 L331.6 1423.5 L334.6 1405.2 L338.3 1418.5 L341.8 1407.7 L345.1 1394.7 L349.1 1405.7 L352.6 1401.5 L355.9 1360.2 L359.1 1258.1 L362.6 1305.1 L366.1 1330.6 L369.6 1348.4 L373.1 1379.7 L376.9 1298.3 L380.1 1300.1 L385.6 1379.2 L388.9 1412.2 L394.4 1362.2 L397.6 1407.7 L400.2 1353.9 L403.7 1377.7 L406.4 1400.2 L408.9 1456.5 L412.2 1476.5 L415.2 1417.0 L418.9 1444.7 L421.4 1418.5 L424.4 1401.0 L427.4 1275.6 L430.9 1287.6 L433.9 1295.8 L436.7 1328.9 L440.2 1316.4 L443.4 1322.6 L446.4 1255.1 L449.7 1323.9 L453.0 1343.4 L456.2 1344.6 L459.0 1338.4 L462.0 1359.7 L464.7 1330.1 L468.2 1332.6 L470.7 1429.5 L474.2 1396.4 L477.2 1336.9 L480.2 1426.5 L486.7 1432.7 L488.2 1467.8 L490.2 1459.0 L492.7 1474.5 L496.5 1423.2 L499.5 1494.0 L503.3 1414.0 L506.5 1407.2 L509.5 1379.7 L513.0 1307.6 L516.8 1285.1 L520.0 1312.6 L523.3 1325.1 L526.8 1297.1 L530.0 1329.6 L533.5 1305.1 L537.0 1352.2 L540.5 1405.7 L544.0 1358.9 L547.5 1318.9 L551.3 1324.4 L554.6 1382.2 L559.6 1378.9 L563.6 1414.5 L567.8 1427.7 L572.1 1392.2 L576.3 1422.2 L580.3 1363.7 L584.8 1312.1 L589.3 1334.4 L593.1 1389.2 L597.8 1399.4 L601.4 1379.7 L604.4 1320.6 L607.6 1374.4 L613.9 1417.7 L617.1 1359.4 L620.4 1354.7 L623.4 1335.1 L626.4 1297.1 L629.4 1363.2 L632.6 1428.2 L635.9 1432.7 L638.1 1468.3 L641.4 1472.3 L644.4 1381.9 L647.6 1393.2 L650.4 1397.7 L653.4 1406.0 L656.4 1429.0 L659.4 1376.2 L662.7 1366.4 L665.7 1430.7 L668.9 1453.3 L675.2 1452.8 L678.2 1434.0 L681.4 1462.0 L684.2 1349.6 L687.7 1330.6 L691.2 1347.6 L694.2 1311.4 L700.7 1325.9 L704.0 1324.4 L706.7 1332.6 L710.0 1276.8 L713.0 1338.4 L716.2 1353.4 L719.5 1357.2 L722.0 1398.4 L725.0 1305.6 L727.7 1331.4 L731.0 1333.9 L733.7 1409.7 L737.0 1437.7 L739.7 1458.3 L743.5 1418.2 L746.5 1457.3 L749.5 1445.2 L753.3 1497.0 L756.5 1545.3 L759.8 1498.3 L762.0 1446.5 L765.7 1352.2 L770.0 1330.1 L772.5 1347.6 L775.3 1299.6 L778.3 1397.7 L781.5 1434.7 L784.5 1444.0 L787.8 1479.0 L791.5 1406.0 L794.3 1384.4 L798.3 1362.2 L801.0 1380.7 L804.3 1330.9 L807.3 1322.6 L810.5 1310.6 L814.0 1348.1 L816.8 1400.7 L819.8 1352.2 L822.6 1400.2 L826.6 1435.2 L830.1 1397.7 L833.3 1401.5 L837.1 1380.7 L840.3 1280.1 L843.6 1383.9 L847.1 1333.1 L850.6 1330.6 L854.1 1300.9 L857.1 1323.4 L860.6 1290.8 L864.1 1322.6 L867.3 1330.6 L870.4 1350.2 L873.6 1375.2 L877.1 1380.7 L880.4 1381.9 L883.4 1376.2 L886.9 1430.2 L890.4 1396.9 L893.6 1393.9 L897.4 1417.0 L900.9 1461.0 L904.1 1405.2 L908.1 1373.4 L912.4 1403.5 L916.9 1375.2 L921.2 1364.7 L925.2 1290.1 L929.2 1338.9 L933.4 1351.4 L937.7 1379.7 L941.7 1397.7 L945.9 1338.4 L949.4 1314.6 L952.9 1294.3 L955.9 1287.1 L962.2 1320.9 L965.2 1348.9 L968.4 1356.9 L971.5 1374.7 L974.5 1401.7 L977.7 1449.5 L981.5 1449.7 L984.2 1457.0 L987.5 1408.5 L990.7 1378.2 L994.2 1356.4 L997.5 1434.0 L1001.0 1482.3 L1004.2 1442.7 L1007.5 1410.7 L1010.7 1396.9 L1014.0 1453.3 L1017.7 1443.5 L1021.0 1491.0 L1024.5 1437.2" fill="none" stroke="#ff0000" stroke-width="2.15" stroke-linejoin="round"/>
<g fill="#ff0000"><circle cx="118.9" cy="1393.5" r="3.7"/><circle cx="122.1" cy="1414.8" r="3.7"/><circle cx="125.6" cy="1396.5" r="3.7"/><circle cx="128.6" cy="1402.8" r="3.7"/><circle cx="131.9" cy="1416.0" r="3.7"/><circle cx="135.9" cy="1438.5" r="3.7"/><circle cx="139.4" cy="1322.7" r="3.7"/><circle cx="143.1" cy="1333.4" r="3.7"/><circle cx="146.4" cy="1347.2" r="3.7"/><circle cx="149.6" cy="1305.7" r="3.7"/><circle cx="156.7" cy="1397.3" r="3.7"/><circle cx="159.7" cy="1305.7" r="3.7"/><circle cx="163.2" cy="1320.9" r="3.7"/><circle cx="166.7" cy="1359.0" r="3.7"/><circle cx="170.4" cy="1352.2" r="3.7"/><circle cx="174.2" cy="1430.8" r="3.7"/><circle cx="177.2" cy="1340.2" r="3.7"/><circle cx="180.4" cy="1265.1" r="3.7"/><circle cx="186.9" cy="1290.2" r="3.7"/><circle cx="190.4" cy="1324.7" r="3.7"/><circle cx="193.2" cy="1375.2" r="3.7"/><circle cx="196.7" cy="1444.6" r="3.7"/><circle cx="199.4" cy="1381.0" r="3.7"/><circle cx="203.0" cy="1362.7" r="3.7"/><circle cx="206.2" cy="1427.8" r="3.7"/><circle cx="209.2" cy="1441.1" r="3.7"/><circle cx="212.2" cy="1407.3" r="3.7"/><circle cx="215.7" cy="1377.7" r="3.7"/><circle cx="219.0" cy="1407.8" r="3.7"/><circle cx="230.2" cy="1460.8" r="3.7"/><circle cx="234.2" cy="1406.5" r="3.7"/><circle cx="238.7" cy="1457.1" r="3.7"/><circle cx="242.2" cy="1345.7" r="3.7"/><circle cx="246.2" cy="1413.5" r="3.7"/><circle cx="250.3" cy="1362.7" r="3.7"/><circle cx="253.8" cy="1279.6" r="3.7"/><circle cx="257.8" cy="1280.1" r="3.7"/><circle cx="261.8" cy="1229.5" r="3.7"/><circle cx="265.3" cy="1389.4" r="3.7"/><circle cx="269.0" cy="1359.7" r="3.7"/><circle cx="273.0" cy="1340.9" r="3.7"/><circle cx="277.3" cy="1300.9" r="3.7"/><circle cx="280.8" cy="1318.9" r="3.7"/><circle cx="284.8" cy="1305.6" r="3.7"/><circle cx="288.0" cy="1382.7" r="3.7"/><circle cx="291.8" cy="1403.2" r="3.7"/><circle cx="294.5" cy="1383.9" r="3.7"/><circle cx="297.5" cy="1377.7" r="3.7"/><circle cx="300.6" cy="1398.2" r="3.7"/><circle cx="303.6" cy="1417.7" r="3.7"/><circle cx="306.1" cy="1427.2" r="3.7"/><circle cx="308.8" cy="1450.3" r="3.7"/><circle cx="311.3" cy="1442.2" r="3.7"/><circle cx="315.1" cy="1441.5" r="3.7"/><circle cx="317.8" cy="1285.1" r="3.7"/><circle cx="321.1" cy="1338.1" r="3.7"/><circle cx="324.6" cy="1360.9" r="3.7"/><circle cx="327.8" cy="1427.7" r="3.7"/><circle cx="331.6" cy="1423.5" r="3.7"/><circle cx="334.6" cy="1405.2" r="3.7"/><circle cx="338.3" cy="1418.5" r="3.7"/><circle cx="341.8" cy="1407.7" r="3.7"/><circle cx="345.1" cy="1394.7" r="3.7"/><circle cx="349.1" cy="1405.7" r="3.7"/><circle cx="352.6" cy="1401.5" r="3.7"/><circle cx="355.9" cy="1360.2" r="3.7"/><circle cx="359.1" cy="1258.1" r="3.7"/><circle cx="362.6" cy="1305.1" r="3.7"/><circle cx="366.1" cy="1330.6" r="3.7"/><circle cx="369.6" cy="1348.4" r="3.7"/><circle cx="373.1" cy="1379.7" r="3.7"/><circle cx="376.9" cy="1298.3" r="3.7"/><circle cx="380.1" cy="1300.1" r="3.7"/><circle cx="385.6" cy="1379.2" r="3.7"/><circle cx="388.9" cy="1412.2" r="3.7"/><circle cx="394.4" cy="1362.2" r="3.7"/><circle cx="397.6" cy="1407.7" r="3.7"/><circle cx="400.2" cy="1353.9" r="3.7"/><circle cx="403.7" cy="1377.7" r="3.7"/><circle cx="406.4" cy="1400.2" r="3.7"/><circle cx="408.9" cy="1456.5" r="3.7"/><circle cx="412.2" cy="1476.5" r="3.7"/><circle cx="415.2" cy="1417.0" r="3.7"/><circle cx="418.9" cy="1444.7" r="3.7"/><circle cx="421.4" cy="1418.5" r="3.7"/><circle cx="424.4" cy="1401.0" r="3.7"/><circle cx="427.4" cy="1275.6" r="3.7"/><circle cx="430.9" cy="1287.6" r="3.7"/><circle cx="433.9" cy="1295.8" r="3.7"/><circle cx="436.7" cy="1328.9" r="3.7"/><circle cx="440.2" cy="1316.4" r="3.7"/><circle cx="443.4" cy="1322.6" r="3.7"/><circle cx="446.4" cy="1255.1" r="3.7"/><circle cx="449.7" cy="1323.9" r="3.7"/><circle cx="453.0" cy="1343.4" r="3.7"/><circle cx="456.2" cy="1344.6" r="3.7"/><circle cx="459.0" cy="1338.4" r="3.7"/><circle cx="462.0" cy="1359.7" r="3.7"/><circle cx="464.7" cy="1330.1" r="3.7"/><circle cx="468.2" cy="1332.6" r="3.7"/><circle cx="470.7" cy="1429.5" r="3.7"/><circle cx="474.2" cy="1396.4" r="3.7"/><circle cx="477.2" cy="1336.9" r="3.7"/><circle cx="480.2" cy="1426.5" r="3.7"/><circle cx="486.7" cy="1432.7" r="3.7"/><circle cx="488.2" cy="1467.8" r="3.7"/><circle cx="490.2" cy="1459.0" r="3.7"/><circle cx="492.7" cy="1474.5" r="3.7"/><circle cx="496.5" cy="1423.2" r="3.7"/><circle cx="499.5" cy="1494.0" r="3.7"/><circle cx="503.3" cy="1414.0" r="3.7"/><circle cx="506.5" cy="1407.2" r="3.7"/><circle cx="509.5" cy="1379.7" r="3.7"/><circle cx="513.0" cy="1307.6" r="3.7"/><circle cx="516.8" cy="1285.1" r="3.7"/><circle cx="520.0" cy="1312.6" r="3.7"/><circle cx="523.3" cy="1325.1" r="3.7"/><circle cx="526.8" cy="1297.1" r="3.7"/><circle cx="530.0" cy="1329.6" r="3.7"/><circle cx="533.5" cy="1305.1" r="3.7"/><circle cx="537.0" cy="1352.2" r="3.7"/><circle cx="540.5" cy="1405.7" r="3.7"/><circle cx="544.0" cy="1358.9" r="3.7"/><circle cx="547.5" cy="1318.9" r="3.7"/><circle cx="551.3" cy="1324.4" r="3.7"/><circle cx="554.6" cy="1382.2" r="3.7"/><circle cx="559.6" cy="1378.9" r="3.7"/><circle cx="563.6" cy="1414.5" r="3.7"/><circle cx="567.8" cy="1427.7" r="3.7"/><circle cx="572.1" cy="1392.2" r="3.7"/><circle cx="576.3" cy="1422.2" r="3.7"/><circle cx="580.3" cy="1363.7" r="3.7"/><circle cx="584.8" cy="1312.1" r="3.7"/><circle cx="589.3" cy="1334.4" r="3.7"/><circle cx="593.1" cy="1389.2" r="3.7"/><circle cx="597.8" cy="1399.4" r="3.7"/><circle cx="601.4" cy="1379.7" r="3.7"/><circle cx="604.4" cy="1320.6" r="3.7"/><circle cx="607.6" cy="1374.4" r="3.7"/><circle cx="613.9" cy="1417.7" r="3.7"/><circle cx="617.1" cy="1359.4" r="3.7"/><circle cx="620.4" cy="1354.7" r="3.7"/><circle cx="623.4" cy="1335.1" r="3.7"/><circle cx="626.4" cy="1297.1" r="3.7"/><circle cx="629.4" cy="1363.2" r="3.7"/><circle cx="632.6" cy="1428.2" r="3.7"/><circle cx="635.9" cy="1432.7" r="3.7"/><circle cx="638.1" cy="1468.3" r="3.7"/><circle cx="641.4" cy="1472.3" r="3.7"/><circle cx="644.4" cy="1381.9" r="3.7"/><circle cx="647.6" cy="1393.2" r="3.7"/><circle cx="650.4" cy="1397.7" r="3.7"/><circle cx="653.4" cy="1406.0" r="3.7"/><circle cx="656.4" cy="1429.0" r="3.7"/><circle cx="659.4" cy="1376.2" r="3.7"/><circle cx="662.7" cy="1366.4" r="3.7"/><circle cx="665.7" cy="1430.7" r="3.7"/><circle cx="668.9" cy="1453.3" r="3.7"/><circle cx="675.2" cy="1452.8" r="3.7"/><circle cx="678.2" cy="1434.0" r="3.7"/><circle cx="681.4" cy="1462.0" r="3.7"/><circle cx="684.2" cy="1349.6" r="3.7"/><circle cx="687.7" cy="1330.6" r="3.7"/><circle cx="691.2" cy="1347.6" r="3.7"/><circle cx="694.2" cy="1311.4" r="3.7"/><circle cx="700.7" cy="1325.9" r="3.7"/><circle cx="704.0" cy="1324.4" r="3.7"/><circle cx="706.7" cy="1332.6" r="3.7"/><circle cx="710.0" cy="1276.8" r="3.7"/><circle cx="713.0" cy="1338.4" r="3.7"/><circle cx="716.2" cy="1353.4" r="3.7"/><circle cx="719.5" cy="1357.2" r="3.7"/><circle cx="722.0" cy="1398.4" r="3.7"/><circle cx="725.0" cy="1305.6" r="3.7"/><circle cx="727.7" cy="1331.4" r="3.7"/><circle cx="731.0" cy="1333.9" r="3.7"/><circle cx="733.7" cy="1409.7" r="3.7"/><circle cx="737.0" cy="1437.7" r="3.7"/><circle cx="739.7" cy="1458.3" r="3.7"/><circle cx="743.5" cy="1418.2" r="3.7"/><circle cx="746.5" cy="1457.3" r="3.7"/><circle cx="749.5" cy="1445.2" r="3.7"/><circle cx="753.3" cy="1497.0" r="3.7"/><circle cx="756.5" cy="1545.3" r="3.7"/><circle cx="759.8" cy="1498.3" r="3.7"/><circle cx="762.0" cy="1446.5" r="3.7"/><circle cx="765.7" cy="1352.2" r="3.7"/><circle cx="770.0" cy="1330.1" r="3.7"/><circle cx="772.5" cy="1347.6" r="3.7"/><circle cx="775.3" cy="1299.6" r="3.7"/><circle cx="778.3" cy="1397.7" r="3.7"/><circle cx="781.5" cy="1434.7" r="3.7"/><circle cx="784.5" cy="1444.0" r="3.7"/><circle cx="787.8" cy="1479.0" r="3.7"/><circle cx="791.5" cy="1406.0" r="3.7"/><circle cx="794.3" cy="1384.4" r="3.7"/><circle cx="798.3" cy="1362.2" r="3.7"/><circle cx="801.0" cy="1380.7" r="3.7"/><circle cx="804.3" cy="1330.9" r="3.7"/><circle cx="807.3" cy="1322.6" r="3.7"/><circle cx="810.5" cy="1310.6" r="3.7"/><circle cx="814.0" cy="1348.1" r="3.7"/><circle cx="816.8" cy="1400.7" r="3.7"/><circle cx="819.8" cy="1352.2" r="3.7"/><circle cx="822.6" cy="1400.2" r="3.7"/><circle cx="826.6" cy="1435.2" r="3.7"/><circle cx="830.1" cy="1397.7" r="3.7"/><circle cx="833.3" cy="1401.5" r="3.7"/><circle cx="837.1" cy="1380.7" r="3.7"/><circle cx="840.3" cy="1280.1" r="3.7"/><circle cx="843.6" cy="1383.9" r="3.7"/><circle cx="847.1" cy="1333.1" r="3.7"/><circle cx="850.6" cy="1330.6" r="3.7"/><circle cx="854.1" cy="1300.9" r="3.7"/><circle cx="857.1" cy="1323.4" r="3.7"/><circle cx="860.6" cy="1290.8" r="3.7"/><circle cx="864.1" cy="1322.6" r="3.7"/><circle cx="867.3" cy="1330.6" r="3.7"/><circle cx="870.4" cy="1350.2" r="3.7"/><circle cx="873.6" cy="1375.2" r="3.7"/><circle cx="877.1" cy="1380.7" r="3.7"/><circle cx="880.4" cy="1381.9" r="3.7"/><circle cx="883.4" cy="1376.2" r="3.7"/><circle cx="886.9" cy="1430.2" r="3.7"/><circle cx="890.4" cy="1396.9" r="3.7"/><circle cx="893.6" cy="1393.9" r="3.7"/><circle cx="897.4" cy="1417.0" r="3.7"/><circle cx="900.9" cy="1461.0" r="3.7"/><circle cx="904.1" cy="1405.2" r="3.7"/><circle cx="908.1" cy="1373.4" r="3.7"/><circle cx="912.4" cy="1403.5" r="3.7"/><circle cx="916.9" cy="1375.2" r="3.7"/><circle cx="921.2" cy="1364.7" r="3.7"/><circle cx="925.2" cy="1290.1" r="3.7"/><circle cx="929.2" cy="1338.9" r="3.7"/><circle cx="933.4" cy="1351.4" r="3.7"/><circle cx="937.7" cy="1379.7" r="3.7"/><circle cx="941.7" cy="1397.7" r="3.7"/><circle cx="945.9" cy="1338.4" r="3.7"/><circle cx="949.4" cy="1314.6" r="3.7"/><circle cx="952.9" cy="1294.3" r="3.7"/><circle cx="955.9" cy="1287.1" r="3.7"/><circle cx="962.2" cy="1320.9" r="3.7"/><circle cx="965.2" cy="1348.9" r="3.7"/><circle cx="968.4" cy="1356.9" r="3.7"/><circle cx="971.5" cy="1374.7" r="3.7"/><circle cx="974.5" cy="1401.7" r="3.7"/><circle cx="977.7" cy="1449.5" r="3.7"/><circle cx="981.5" cy="1449.7" r="3.7"/><circle cx="984.2" cy="1457.0" r="3.7"/><circle cx="987.5" cy="1408.5" r="3.7"/><circle cx="990.7" cy="1378.2" r="3.7"/><circle cx="994.2" cy="1356.4" r="3.7"/><circle cx="997.5" cy="1434.0" r="3.7"/><circle cx="1001.0" cy="1482.3" r="3.7"/><circle cx="1004.2" cy="1442.7" r="3.7"/><circle cx="1007.5" cy="1410.7" r="3.7"/><circle cx="1010.7" cy="1396.9" r="3.7"/><circle cx="1014.0" cy="1453.3" r="3.7"/><circle cx="1017.7" cy="1443.5" r="3.7"/><circle cx="1021.0" cy="1491.0" r="3.7"/><circle cx="1024.5" cy="1437.2" r="3.7"/></g></g>
<path d="M117.3 1913.3 L117.0 1832.7 L118.8 1750.2 L120.5 1703.1 L122.5 1725.1 L124.5 1750.2 L127.0 1760.2 L129.5 1790.2 L131.3 1817.7 L133.0 1840.2 L134.5 1847.7 L135.8 1825.2 L137.0 1804.7 L138.3 1805.2 L140.0 1825.2 L142.0 1807.7 L143.8 1790.2 L145.5 1779.4 L147.5 1797.7 L149.5 1807.7 L151.3 1807.7 L153.1 1825.2 L155.1 1797.7 L157.1 1800.2 L158.3 1812.7 L160.1 1804.0 L162.1 1803.2 L163.8 1807.7 L165.6 1812.7 L167.6 1812.7 L169.6 1825.2 L171.3 1807.7 L173.1 1807.7 L175.1 1805.2 L177.1 1825.2 L178.8 1834.0 L180.6 1795.2 L182.6 1746.4 L184.3 1787.7 L185.8 1791.4 L187.6 1787.7 L189.3 1762.7 L190.8 1737.6 L192.6 1745.1 L194.3 1739.4 L196.3 1772.7 L198.3 1770.2 L200.4 1736.4 L202.1 1765.2 L203.9 1767.7 L205.6 1777.7 L207.6 1778.9 L209.4 1786.4 L211.1 1752.7 L212.6 1760.2 L214.1 1750.2 L215.6 1765.2 L217.1 1778.9 L218.9 1775.2 L220.6 1770.2 L222.6 1758.2 L224.4 1745.1 L226.1 1730.1 L227.6 1735.1 L229.4 1680.1 L230.6 1660.1 L232.6 1653.3 L234.4 1662.6 L235.9 1700.1 L237.1 1712.6 L238.9 1750.2 L240.6 1778.9 L242.6 1790.2 L244.4 1797.7 L246.4 1812.7 L248.1 1817.7 L250.2 1800.2 L251.9 1778.9 L253.4 1778.2 L255.2 1800.2 L256.9 1815.2 L258.7 1829.0 L260.4 1823.5 L262.2 1828.2 L263.9 1825.2 L265.7 1812.7 L267.7 1802.7 L269.4 1798.9 L271.2 1820.2 L272.7 1814.0 L274.4 1820.2 L276.4 1826.5 L278.2 1832.7 L280.2 1840.2 L281.9 1835.2 L283.7 1847.7 L285.2 1845.2 L287.2 1825.2 L288.9 1815.2 L290.7 1793.9 L292.2 1802.7 L293.9 1792.7 L295.7 1792.7 L297.7 1800.2 L299.4 1807.7 L301.5 1808.2 L303.2 1812.7 L305.2 1807.0 L307.0 1825.2 L309.0 1822.7 L311.0 1790.2 L312.7 1766.4 L314.5 1785.2 L316.2 1782.7 L318.2 1773.9 L320.0 1800.2 L321.7 1805.2 L323.5 1825.2 L325.2 1837.7 L326.5 1832.7 L327.7 1839.0 L329.5 1800.2 L331.2 1755.2 L333.0 1699.6 L334.7 1717.6 L336.5 1755.2 L338.2 1780.2 L340.2 1760.2 L342.0 1775.2 L344.0 1793.9 L345.7 1775.2 L347.7 1763.9 L349.5 1770.2 L351.0 1757.7 L352.3 1755.7 L353.8 1760.2 L355.3 1748.9 L357.0 1775.2 L358.5 1768.9 L360.5 1800.2 L362.5 1797.7 L364.3 1795.2 L366.0 1817.7 L368.0 1819.0 L370.0 1820.2 L372.0 1824.0 L373.8 1797.7 L375.5 1785.2 L377.0 1775.2 L378.8 1777.7 L380.5 1770.9 L382.3 1790.2 L384.0 1780.2 L385.8 1802.7 L387.5 1800.2 L389.0 1804.0 L390.5 1775.2 L392.0 1757.2 L393.8 1772.7 L395.5 1790.2 L397.0 1775.2 L398.5 1762.7 L400.1 1792.7 L401.8 1786.4 L403.6 1787.7 L405.1 1800.2 L406.8 1820.2 L408.6 1836.5 L410.1 1775.2 L411.6 1751.4 L413.1 1760.2 L414.6 1770.2 L416.3 1720.1 L418.1 1717.6 L419.6 1693.8 L421.1 1675.1 L422.1 1670.1 L423.1 1705.1 L424.6 1750.2 L426.3 1790.2 L428.1 1822.7 L430.1 1807.7 L431.8 1806.5 L433.3 1785.2 L435.1 1800.2 L436.8 1805.2 L438.3 1830.2 L440.1 1795.2 L441.8 1775.2 L443.3 1790.2 L445.1 1817.7 L446.6 1790.2 L448.3 1780.2 L449.8 1762.2 L451.4 1790.2 L452.9 1770.2 L454.6 1760.2 L456.1 1780.2 L457.6 1790.2 L459.1 1770.2 L460.6 1750.2 L462.1 1710.1 L463.4 1662.6 L464.6 1631.3 L465.9 1675.1 L467.1 1695.1 L468.6 1671.3 L470.1 1700.1 L471.6 1730.1 L473.1 1730.1 L474.4 1760.2 L475.9 1780.2 L477.1 1735.1 L478.6 1724.4 L480.1 1740.1 L481.9 1760.2 L483.4 1760.2 L484.6 1765.2 L486.1 1772.7 L487.6 1765.2 L489.1 1730.1 L490.6 1711.9 L492.1 1715.1 L493.6 1730.1 L495.1 1722.6 L496.6 1735.1 L498.1 1717.6 L499.6 1704.6 L501.2 1705.1 L502.7 1720.1 L504.2 1702.1 L505.7 1700.1 L507.2 1720.1 L508.7 1760.2 L510.2 1800.2 L511.7 1830.2 L513.2 1837.7 L514.7 1814.0 L516.2 1832.7 L517.7 1840.2 L519.2 1797.7 L520.7 1825.2 L522.2 1850.3 L523.7 1872.8 L525.2 1860.3 L526.4 1845.2 L527.7 1850.3 L528.2 1913.1 L528.2 1913.3Z" fill="#800080" stroke="#800080" stroke-width="1.3" stroke-linejoin="round"/>
<path d="M117.3 1913.3 L117.0 1835.2 L119.5 1831.5 L121.3 1847.7 L123.0 1850.3 L125.0 1847.7 L127.0 1847.7 L128.8 1832.7 L130.5 1827.7 L132.5 1844.0 L134.3 1867.8 L136.3 1890.3 L138.8 1896.5 L141.3 1902.8 L143.0 1904.1 L145.0 1900.3 L146.8 1897.8 L148.3 1875.3 L150.1 1859.0 L151.8 1867.8 L153.3 1885.3 L155.1 1884.0 L157.1 1892.8 L158.8 1891.5 L160.6 1890.3 L162.1 1891.5 L163.8 1880.3 L165.6 1870.3 L167.6 1875.3 L169.6 1882.8 L171.3 1890.3 L173.1 1900.3 L175.1 1905.3 L177.1 1902.8 L178.8 1897.8 L180.6 1897.8 L182.6 1899.0 L184.3 1904.1 L186.3 1905.3 L188.1 1899.0 L189.6 1900.3 L191.3 1896.5 L192.6 1899.0 L194.3 1894.0 L196.3 1900.3 L198.1 1902.8 L200.1 1894.0 L202.6 1885.3 L204.6 1897.8 L206.4 1906.6 L208.1 1910.3 L210.1 1906.6 L212.1 1907.8 L213.9 1905.8 L215.6 1910.3 L217.6 1912.8 L219.6 1904.1 L221.1 1901.6 L222.6 1911.6 L225.1 1912.8 L226.9 1877.8 L228.4 1875.3 L230.1 1877.8 L231.4 1825.2 L233.1 1750.2 L235.1 1712.6 L237.1 1711.9 L238.4 1735.1 L240.1 1775.2 L241.4 1787.7 L243.1 1807.7 L245.1 1830.2 L247.1 1852.8 L248.9 1867.8 L251.4 1880.3 L253.4 1887.8 L255.2 1892.8 L256.9 1887.8 L258.2 1887.3 L260.2 1897.8 L262.2 1902.8 L263.9 1900.3 L265.7 1895.3 L267.7 1904.1 L269.4 1912.8 L272.7 1912.8 L274.4 1902.8 L276.4 1892.8 L278.2 1882.8 L279.4 1880.3 L280.9 1887.8 L282.7 1897.8 L284.7 1900.3 L286.4 1901.6 L288.2 1905.3 L290.2 1907.3 L292.7 1908.3 L297.7 1907.3 L302.7 1907.3 L305.2 1908.3 L307.2 1900.3 L309.0 1887.8 L310.7 1877.8 L312.2 1879.0 L314.0 1890.3 L315.7 1900.3 L317.7 1907.8 L319.5 1910.3 L321.5 1907.3 L323.5 1904.1 L325.2 1897.8 L327.0 1896.5 L328.5 1899.0 L330.2 1892.8 L332.0 1887.8 L333.7 1884.0 L335.2 1862.8 L337.2 1850.3 L339.0 1865.3 L340.7 1882.8 L342.2 1877.8 L344.0 1877.8 L345.7 1855.3 L347.7 1844.7 L349.2 1857.8 L351.0 1882.8 L352.8 1897.8 L354.5 1907.8 L356.5 1905.3 L358.5 1897.8 L360.8 1870.3 L362.0 1887.8 L363.8 1904.1 L365.8 1890.3 L367.5 1907.8 L369.5 1904.1 L371.3 1902.8 L373.0 1905.3 L375.0 1906.6 L377.0 1910.3 L379.0 1907.8 L381.3 1901.6 L383.8 1899.0 L387.5 1899.0 L390.5 1900.3 L393.0 1906.6 L395.0 1906.6 L397.5 1900.3 L399.5 1895.3 L401.3 1891.5 L403.1 1897.8 L405.1 1905.3 L407.1 1906.6 L408.8 1904.8 L410.6 1905.8 L412.6 1901.6 L414.3 1882.8 L415.8 1876.5 L417.6 1825.2 L419.3 1750.2 L420.8 1713.9 L422.1 1712.6 L423.6 1750.2 L425.1 1790.2 L426.6 1825.2 L428.1 1850.3 L429.6 1870.3 L431.3 1884.0 L435.1 1890.3 L440.1 1899.0 L443.8 1905.3 L446.3 1910.3 L448.1 1904.1 L449.6 1901.6 L451.4 1905.8 L453.4 1904.1 L455.1 1880.3 L456.6 1855.3 L458.1 1887.8 L459.6 1897.8 L461.4 1882.8 L462.6 1874.0 L464.4 1877.8 L465.9 1892.8 L467.6 1894.0 L469.1 1865.3 L470.4 1861.5 L471.9 1875.3 L473.4 1855.3 L474.6 1850.3 L475.9 1800.2 L477.1 1736.4 L478.6 1775.2 L479.6 1840.2 L481.1 1837.7 L482.6 1775.2 L483.4 1698.1 L484.1 1696.3 L484.6 1775.2 L485.6 1847.7 L487.1 1850.3 L488.6 1860.3 L490.1 1872.8 L491.6 1875.3 L493.1 1869.0 L494.6 1880.3 L496.1 1882.8 L497.6 1887.8 L499.1 1895.3 L500.2 1825.2 L501.2 1740.1 L502.7 1750.2 L504.2 1800.2 L505.7 1850.3 L507.2 1870.3 L508.4 1861.5 L510.2 1875.3 L511.7 1867.8 L513.2 1856.5 L515.2 1862.8 L517.7 1872.8 L520.2 1882.8 L522.7 1892.8 L525.2 1900.3 L527.7 1905.3 L529.7 1902.8 L532.2 1897.8 L535.2 1894.8 L537.2 1904.1 L539.2 1912.8 L541.4 1912.8 L543.9 1904.1 L546.2 1897.8 L548.2 1905.3 L550.2 1910.3 L552.2 1905.8 L554.0 1903.3 L555.7 1907.8 L557.7 1910.3 L560.2 1906.6 L562.7 1904.1 L565.2 1901.6 L567.2 1897.8 L569.0 1895.8 L570.7 1904.1 L572.7 1912.8 L589.0 1912.8 L591.5 1905.8 L594.0 1904.1 L596.5 1905.3 L599.0 1912.3 L610.3 1912.8 L627.5 1912.7 L631.3 1910.7 L636.3 1909.7 L638.8 1895.2 L641.3 1887.7 L643.8 1900.2 L645.8 1912.2 L655.1 1912.2 L657.1 1905.2 L658.8 1897.7 L660.6 1901.4 L662.1 1898.9 L663.8 1905.2 L665.6 1897.7 L667.1 1898.9 L668.6 1912.2 L672.1 1912.2 L673.8 1901.4 L675.1 1901.4 L676.6 1912.2 L679.1 1912.2 L680.6 1900.7 L682.6 1900.2 L684.6 1903.2 L687.1 1903.9 L689.1 1912.2 L690.1 1906.4 L691.8 1905.2 L693.6 1912.2 L697.1 1912.2 L698.8 1906.4 L700.6 1904.7 L702.1 1912.2 L703.9 1902.7 L705.6 1901.4 L707.1 1912.2 L709.1 1895.2 L711.4 1887.2 L713.4 1887.7 L715.6 1897.7 L717.6 1903.2 L721.4 1903.9 L727.6 1903.9 L731.4 1902.2 L735.1 1900.7 L736.4 1882.2 L739.1 1881.4 L740.9 1895.2 L742.6 1893.9 L744.6 1902.7 L746.4 1890.2 L747.6 1890.2 L749.1 1905.2 L750.7 1912.7 L752.2 1912.7 L753.2 1890.2 L754.7 1870.2 L755.9 1868.9 L757.2 1882.7 L758.2 1886.4 L759.7 1885.2 L761.4 1892.7 L762.7 1860.1 L763.7 1840.1 L764.7 1840.1 L765.7 1870.2 L766.7 1900.2 L768.2 1895.2 L769.7 1875.2 L770.7 1871.4 L772.2 1873.9 L773.7 1885.2 L775.2 1882.7 L776.7 1905.2 L778.2 1912.7 L787.2 1912.7 L788.2 1873.9 L789.7 1872.7 L790.7 1845.1 L791.7 1803.1 L792.7 1805.1 L793.7 1870.2 L794.2 1912.7 L795.2 1912.7 L796.2 1888.2 L799.4 1888.2 L800.7 1912.7 L808.7 1912.7 L809.5 1844.6 L811.0 1844.6 L812.0 1912.7 L814.2 1912.7 L815.2 1897.7 L816.7 1897.7 L817.7 1912.7 L820.2 1912.7 L822.2 1902.7 L824.0 1898.9 L825.7 1905.2 L827.2 1912.2 L828.2 1845.1 L829.2 1837.6 L830.5 1835.9 L831.7 1860.1 L832.7 1852.6 L833.7 1852.1 L834.7 1870.2 L835.7 1825.1 L836.7 1822.6 L837.7 1845.1 L838.5 1895.2 L839.5 1898.9 L841.0 1897.7 L842.7 1897.2 L844.2 1905.2 L845.7 1895.2 L847.0 1893.4 L848.2 1902.7 L849.7 1880.2 L850.8 1873.2 L851.8 1880.2 L853.3 1905.2 L854.8 1902.7 L855.8 1902.2 L857.3 1912.7 L858.3 1898.9 L859.8 1897.2 L861.3 1912.7 L869.1 1912.7 L869.8 1892.7 L871.1 1892.2 L872.1 1912.7 L881.1 1912.7 L882.1 1903.9 L883.6 1903.2 L884.8 1912.7 L886.1 1902.2 L887.6 1901.4 L888.6 1912.7 L892.4 1912.7 L893.1 1894.7 L894.9 1893.9 L896.6 1894.7 L898.1 1893.2 L899.1 1912.7 L900.1 1912.7 L901.1 1870.2 L902.4 1795.1 L903.6 1776.3 L905.1 1775.6 L906.1 1807.6 L907.4 1870.2 L908.6 1877.7 L909.9 1876.4 L911.1 1893.9 L913.1 1893.9 L914.1 1857.6 L915.4 1823.9 L916.6 1823.1 L917.9 1857.6 L918.6 1881.4 L920.4 1881.4 L921.6 1912.7 L923.1 1908.2 L924.6 1912.7 L926.1 1907.7 L927.6 1906.4 L929.1 1912.7 L931.1 1903.9 L933.1 1900.7 L934.9 1900.2 L936.6 1901.4 L938.1 1906.4 L939.9 1903.2 L941.2 1903.9 L942.7 1908.9 L944.2 1905.7 L946.2 1905.2 L948.2 1909.7 L949.7 1905.2 L951.2 1904.7 L953.2 1912.7 L986.2 1912.7 L988.2 1908.2 L990.2 1907.2 L992.5 1912.7 L1000.0 1912.7 L1001.7 1905.7 L1003.7 1904.7 L1006.2 1907.2 L1008.7 1912.7 L1025.0 1912.7 L1025.0 1913.3Z" fill="#4b0052" stroke="#4b0052" stroke-width="1.5" stroke-linejoin="round"/>
<g stroke="#000" stroke-width="2" fill="none">
<path d="M116.3 84.4H1026.0"/>
<path d="M116.3 1913.0H1026.0"/>
<path d="M117.3 84.4V1913.3"/>
<path d="M1025.0 84.4V1913.3"/>
</g><g stroke="#2a2a2a" stroke-width="1.8" fill="none">
<path d="M117.3 75.4V84.4"/>
<path d="M117.3 1913.3V1922.7"/>
<path d="M208.1 75.4V84.4"/>
<path d="M208.1 1913.3V1922.7"/>
<path d="M298.8 75.4V84.4"/>
<path d="M298.8 1913.3V1922.7"/>
<path d="M389.6 75.4V84.4"/>
<path d="M389.6 1913.3V1922.7"/>
<path d="M480.4 75.4V84.4"/>
<path d="M480.4 1913.3V1922.7"/>
<path d="M571.1 75.4V84.4"/>
<path d="M571.1 1913.3V1922.7"/>
<path d="M661.9 75.4V84.4"/>
<path d="M661.9 1913.3V1922.7"/>
<path d="M752.7 75.4V84.4"/>
<path d="M752.7 1913.3V1922.7"/>
<path d="M843.5 75.4V84.4"/>
<path d="M843.5 1913.3V1922.7"/>
<path d="M934.2 75.4V84.4"/>
<path d="M934.2 1913.3V1922.7"/>
<path d="M1025.0 75.4V84.4"/>
<path d="M1025.0 1913.3V1922.7"/>
<path d="M107.2 108.8H117.3"/>
<path d="M107.2 171.2H117.3"/>
<path d="M107.2 233.6H117.3"/>
<path d="M107.2 295.7H117.3"/>
<path d="M107.2 357.8H117.3"/>
<path d="M107.2 420.1H117.3"/>
<path d="M107.2 483.3H117.3"/>
<path d="M107.2 578.7H117.3"/>
<path d="M107.2 674.3H117.3"/>
<path d="M107.2 769.8H117.3"/>
<path d="M107.2 894.2H117.3"/>
<path d="M107.2 972.3H117.3"/>
<path d="M107.2 1050.4H117.3"/>
<path d="M107.2 1128.3H117.3"/>
<path d="M107.2 1267.7H117.3"/>
<path d="M107.2 1345.6H117.3"/>
<path d="M107.2 1423.4H117.3"/>
<path d="M107.2 1501.0H117.3"/>
<path d="M107.2 1602.0H117.3"/>
<path d="M107.2 1680.0H117.3"/>
<path d="M107.2 1757.9H117.3"/>
<path d="M107.2 1835.6H117.3"/>
<path d="M107.2 1913.0H117.3"/>
</g>
<text x="117.3" y="62.8" font-size="23.0" text-anchor="middle" textLength="15.6" lengthAdjust="spacingAndGlyphs" fill="#000">0</text>
<text x="117.3" y="1951.9" font-size="23.0" text-anchor="middle" textLength="15.6" lengthAdjust="spacingAndGlyphs" fill="#000">0</text>
<text x="208.1" y="62.8" font-size="23.0" text-anchor="middle" textLength="39.5" lengthAdjust="spacingAndGlyphs" fill="#000">100</text>
<text x="208.1" y="1951.9" font-size="23.0" text-anchor="middle" textLength="39.5" lengthAdjust="spacingAndGlyphs" fill="#000">100</text>
<text x="298.8" y="62.8" font-size="23.0" text-anchor="middle" textLength="44.0" lengthAdjust="spacingAndGlyphs" fill="#000">200</text>
<text x="298.8" y="1951.9" font-size="23.0" text-anchor="middle" textLength="44.0" lengthAdjust="spacingAndGlyphs" fill="#000">200</text>
<text x="389.6" y="62.8" font-size="23.0" text-anchor="middle" textLength="44.5" lengthAdjust="spacingAndGlyphs" fill="#000">300</text>
<text x="389.6" y="1951.9" font-size="23.0" text-anchor="middle" textLength="44.5" lengthAdjust="spacingAndGlyphs" fill="#000">300</text>
<text x="480.4" y="62.8" font-size="23.0" text-anchor="middle" textLength="45.0" lengthAdjust="spacingAndGlyphs" fill="#000">400</text>
<text x="480.4" y="1951.9" font-size="23.0" text-anchor="middle" textLength="45.0" lengthAdjust="spacingAndGlyphs" fill="#000">400</text>
<text x="571.1" y="62.8" font-size="23.0" text-anchor="middle" textLength="44.5" lengthAdjust="spacingAndGlyphs" fill="#000">500</text>
<text x="571.1" y="1951.9" font-size="23.0" text-anchor="middle" textLength="44.5" lengthAdjust="spacingAndGlyphs" fill="#000">500</text>
<text x="661.9" y="62.8" font-size="23.0" text-anchor="middle" textLength="45.0" lengthAdjust="spacingAndGlyphs" fill="#000">600</text>
<text x="661.9" y="1951.9" font-size="23.0" text-anchor="middle" textLength="45.0" lengthAdjust="spacingAndGlyphs" fill="#000">600</text>
<text x="752.7" y="62.8" font-size="23.0" text-anchor="middle" textLength="44.0" lengthAdjust="spacingAndGlyphs" fill="#000">700</text>
<text x="752.7" y="1951.9" font-size="23.0" text-anchor="middle" textLength="44.0" lengthAdjust="spacingAndGlyphs" fill="#000">700</text>
<text x="843.5" y="62.8" font-size="23.0" text-anchor="middle" textLength="45.0" lengthAdjust="spacingAndGlyphs" fill="#000">800</text>
<text x="843.5" y="1951.9" font-size="23.0" text-anchor="middle" textLength="45.0" lengthAdjust="spacingAndGlyphs" fill="#000">800</text>
<text x="934.2" y="62.8" font-size="23.0" text-anchor="middle" textLength="44.5" lengthAdjust="spacingAndGlyphs" fill="#000">900</text>
<text x="934.2" y="1951.9" font-size="23.0" text-anchor="middle" textLength="44.5" lengthAdjust="spacingAndGlyphs" fill="#000">900</text>
<text x="1025.0" y="62.8" font-size="23.0" text-anchor="middle" textLength="63.0" lengthAdjust="spacingAndGlyphs" fill="#000">1,000</text>
<text x="1025.0" y="1951.9" font-size="23.0" text-anchor="middle" textLength="63.0" lengthAdjust="spacingAndGlyphs" fill="#000">1,000</text>
<text x="96.6" y="116.1" font-size="23.0" text-anchor="end" textLength="48.2" lengthAdjust="spacingAndGlyphs" fill="#000">22.0</text>
<text x="96.6" y="178.5" font-size="23.0" text-anchor="end" textLength="46.1" lengthAdjust="spacingAndGlyphs" fill="#000">22.5</text>
<text x="96.6" y="240.9" font-size="23.0" text-anchor="end" textLength="49.1" lengthAdjust="spacingAndGlyphs" fill="#000">23.0</text>
<text x="96.6" y="303.0" font-size="23.0" text-anchor="end" textLength="47.4" lengthAdjust="spacingAndGlyphs" fill="#000">23.5</text>
<text x="96.6" y="365.1" font-size="23.0" text-anchor="end" textLength="50.5" lengthAdjust="spacingAndGlyphs" fill="#000">24.0</text>
<text x="96.6" y="427.4" font-size="23.0" text-anchor="end" textLength="47.0" lengthAdjust="spacingAndGlyphs" fill="#000">24.5</text>
<text x="96.4" y="490.6" font-size="23.0" text-anchor="end" textLength="13.7" lengthAdjust="spacingAndGlyphs" fill="#000">4</text>
<text x="96.9" y="586.0" font-size="23.0" text-anchor="end" textLength="13.6" lengthAdjust="spacingAndGlyphs" fill="#000">2</text>
<text x="96.3" y="681.6" font-size="23.0" text-anchor="end" textLength="15.2" lengthAdjust="spacingAndGlyphs" fill="#000">0</text>
<text x="96.5" y="777.1" font-size="23.0" text-anchor="end" textLength="24.5" lengthAdjust="spacingAndGlyphs" fill="#000">−2</text>
<text x="96.6" y="901.5" font-size="23.0" text-anchor="end" textLength="29.3" lengthAdjust="spacingAndGlyphs" fill="#000">20</text>
<text x="95.5" y="979.6" font-size="23.0" text-anchor="end" textLength="23.7" lengthAdjust="spacingAndGlyphs" fill="#000">18</text>
<text x="95.8" y="1057.7" font-size="23.0" text-anchor="end" textLength="24.0" lengthAdjust="spacingAndGlyphs" fill="#000">16</text>
<text x="96.2" y="1135.6" font-size="23.0" text-anchor="end" textLength="24.4" lengthAdjust="spacingAndGlyphs" fill="#000">14</text>
<text x="95.7" y="1275.0" font-size="23.0" text-anchor="end" textLength="27.4" lengthAdjust="spacingAndGlyphs" fill="#000">28</text>
<text x="95.7" y="1352.9" font-size="23.0" text-anchor="end" textLength="27.4" lengthAdjust="spacingAndGlyphs" fill="#000">26</text>
<text x="96.0" y="1430.7" font-size="23.0" text-anchor="end" textLength="27.7" lengthAdjust="spacingAndGlyphs" fill="#000">24</text>
<text x="96.7" y="1508.3" font-size="23.0" text-anchor="end" textLength="28.1" lengthAdjust="spacingAndGlyphs" fill="#000">22</text>
<text x="96.6" y="1609.3" font-size="23.0" text-anchor="end" textLength="29.2" lengthAdjust="spacingAndGlyphs" fill="#000">40</text>
<text x="96.6" y="1687.3" font-size="23.0" text-anchor="end" textLength="29.6" lengthAdjust="spacingAndGlyphs" fill="#000">30</text>
<text x="96.6" y="1765.2" font-size="23.0" text-anchor="end" textLength="29.3" lengthAdjust="spacingAndGlyphs" fill="#000">20</text>
<text x="96.6" y="1842.9" font-size="23.0" text-anchor="end" textLength="25.8" lengthAdjust="spacingAndGlyphs" fill="#000">10</text>
<text x="96.3" y="1920.3" font-size="23.0" text-anchor="end" textLength="15.2" lengthAdjust="spacingAndGlyphs" fill="#000">0</text>
<text x="514.8" y="20.2" font-size="25.6" textLength="113.6" lengthAdjust="spacingAndGlyphs" fill="#000">Age (kyr)</text>
<text x="514.8" y="1991.5" font-size="25.6" textLength="113.6" lengthAdjust="spacingAndGlyphs" fill="#000">Age (kyr)</text>
<text x="134.8" y="111.0" font-size="39" font-weight="bold" stroke="#000" stroke-width="1.4" stroke-linejoin="round" textLength="21.4" lengthAdjust="spacingAndGlyphs">a</text>
<text x="134.4" y="446.4" font-size="39" font-weight="bold" stroke="#000" stroke-width="1.4" stroke-linejoin="round" textLength="24.5" lengthAdjust="spacingAndGlyphs">b</text>
<text x="134.9" y="821.2" font-size="39" font-weight="bold" stroke="#000" stroke-width="1.4" stroke-linejoin="round" textLength="23.0" lengthAdjust="spacingAndGlyphs">c</text>
<text x="134.0" y="1167.0" font-size="39" font-weight="bold" stroke="#000" stroke-width="1.4" stroke-linejoin="round" textLength="26.4" lengthAdjust="spacingAndGlyphs">d</text>
<text x="130.8" y="1539.9" font-size="39" font-weight="bold" stroke="#000" stroke-width="1.4" stroke-linejoin="round" textLength="24.5" lengthAdjust="spacingAndGlyphs">e</text>
<text x="123.8" y="471.7" font-size="26.0" textLength="127.5" lengthAdjust="spacingAndGlyphs" fill="#008b8b">Dome Fuji</text>
<text x="124.8" y="855.3" font-size="26.0" textLength="220.5" lengthAdjust="spacingAndGlyphs" fill="#0000ff">ACC (MD11-3354)</text>
<text x="123.6" y="1196.3" font-size="26.0" textLength="279.0" lengthAdjust="spacingAndGlyphs" fill="#ff0000">Mozambique Channel</text>
<text x="125.0" y="1224.2" font-size="26.0" textLength="263.5" lengthAdjust="spacingAndGlyphs" fill="#ff0000">Throughflow (U1476)</text>
<text x="125.0" y="1564.7" font-size="26.0" textLength="292.5" lengthAdjust="spacingAndGlyphs" fill="#800080">Agulhas Leakage fauna</text>
<text x="125.0" y="1592.8" font-size="26.0" textLength="394.5" lengthAdjust="spacingAndGlyphs" fill="#800080">(GeoB-3603-2 and MD96-2081)</text>
<text x="125.0" y="1620.6" font-size="26.0" textLength="275.0" lengthAdjust="spacingAndGlyphs" fill="#4b0052">accumulation rates of</text>
<text x="125.0" y="1648.7" font-size="26.0" textLength="286.5" lengthAdjust="spacingAndGlyphs" fill="#4b0052"><tspan font-style="italic">G. menardii</tspan> (ODP1087)</text>
<text x="21.3" y="346.8" font-size="27.6" textLength="155.5" lengthAdjust="spacingAndGlyphs" fill="#000" transform="rotate(-90 21.3 346.8)">Obliquity (°)</text>
<text x="38.9" y="702.0" font-size="27.6" textLength="128.0" lengthAdjust="spacingAndGlyphs" fill="#000" transform="rotate(-90 38.9 702.0)">Δ<tspan font-style="italic">T</tspan><tspan font-size="19" dy="8">gred</tspan><tspan dy="-8"> (°C)</tspan></text>
<text x="45.2" y="1060.6" font-size="28.4" textLength="32.8" lengthAdjust="spacingAndGlyphs" fill="#000" transform="rotate(-90 45.2 1060.6)">SS</text>
<text x="45.2" y="1019.6" font-size="28.4" textLength="58.3" lengthAdjust="spacingAndGlyphs" fill="#000" transform="rotate(-90 45.2 1019.6)">(µm)</text>
<path d="M20 1026.3V1060.9" stroke="#000" stroke-width="2.1"/>
<text x="45.2" y="1432.9" font-size="28.4" textLength="32.8" lengthAdjust="spacingAndGlyphs" fill="#000" transform="rotate(-90 45.2 1432.9)">SS</text>
<text x="45.2" y="1391.9" font-size="28.4" textLength="58.3" lengthAdjust="spacingAndGlyphs" fill="#000" transform="rotate(-90 45.2 1391.9)">(µm)</text>
<path d="M20 1398.6V1433.2" stroke="#000" stroke-width="2.1"/>
<text x="42.0" y="1861.0" font-size="27.6" textLength="207.0" lengthAdjust="spacingAndGlyphs" fill="#000" transform="rotate(-90 42.0 1861.0)">Agulhas leakage</text>
</svg>
</body></html>
